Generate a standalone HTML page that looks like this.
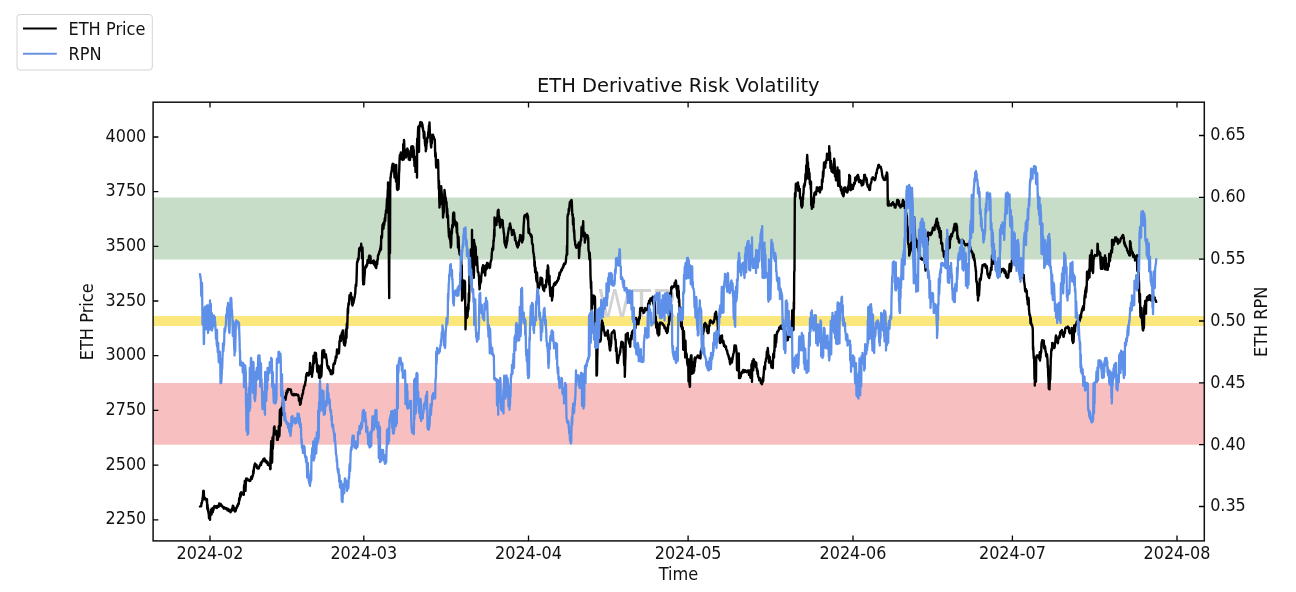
<!DOCTYPE html>
<html lang="en"><head><meta charset="utf-8"><title>ETH Derivative Risk Volatility</title>
<style>html,body{margin:0;padding:0;background:#fff;}body{width:1296px;height:592px;overflow:hidden;}svg{display:block;will-change:transform;}text{font-family:"DejaVu Sans","Liberation Sans",sans-serif;fill:#111;}</style></head><body>
<svg width="1296" height="592" viewBox="0 0 1296 592">
<rect x="0" y="0" width="1296" height="592" fill="#ffffff"/>
<rect x="153.1" y="197.5" width="1051.2" height="62" fill="#c8ddc7"/>
<rect x="153.1" y="316" width="1051.2" height="10" fill="#fce77c"/>
<rect x="153.1" y="383" width="1051.2" height="61.7" fill="#f8bfc0"/>
<text transform="translate(598.5,317.4) scale(0.86,1)" font-size="40" style="font-family:'Liberation Sans',sans-serif;fill:#d2d2d2">WTR</text>
<path d="M200,506.5 200.2,506.4 200.5,506.3 200.8,506.2 201,506.2 201.2,506.2 201.5,502.9 201.8,503.0 202,502.2 202.2,500.9 202.5,499.2 202.8,496.9 203,495.8 203.2,491.7 203.2,491.0 203.5,490.8 203.8,491.0 204,496.4 204.2,499.4 204.5,498.9 204.8,497.6 205,498.5 205.2,498.5 205.5,498.8 205.8,499.4 206,498.9 206.2,499.6 206.5,499.9 206.8,502.0 207,499.2 207.2,508.4 207.5,504.5 207.8,510.3 208,507.7 208.2,511.7 208.5,512.8 208.8,514.6 209,517.8 209.2,518.5 209.5,518.6 209.8,514.6 210,514.4 210,519.8 210.2,512.4 210.5,515.4 210.8,511.8 211,509.7 211.2,511.8 211.5,514.6 211.8,508.7 212,510.1 212.2,509.1 212.5,508.2 212.8,512.2 213,507.9 213.2,510.6 213.5,509.6 213.8,507.8 214,507.4 214.2,506.8 214.5,506.3 214.5,506.0 214.8,507.2 215,506.4 215.2,506.5 215.5,507.6 215.8,507.1 216,507.5 216.2,506.2 216.5,507.7 216.8,507.9 217,507.3 217,508.0 217.2,506.0 217.5,506.5 217.8,506.9 218,505.9 218.2,506.5 218.5,505.9 218.8,506.7 219,504.4 219.2,503.5 219.5,505.2 219.8,505.4 220,504.5 220,504.0 220.2,504.8 220.5,503.9 220.8,504.2 221,505.9 221.2,504.8 221.5,505.4 221.8,505.8 222,505.6 222.2,506.3 222.5,507.1 222.8,506.6 223,506.7 223.2,507.5 223.5,507.6 223.8,508.5 224,507.6 224.2,507.6 224.5,507.5 224.8,507.6 225,508.4 225.2,508.1 225.5,508.6 225.8,508.9 226,508.2 226.2,508.6 226.5,509.1 226.8,509.0 227,508.6 227.2,509.2 227.5,510.4 227.8,509.9 228,509.9 228.2,508.9 228.5,509.3 228.8,511.0 229,510.9 229.2,510.9 229.5,510.2 229.8,510.2 230,511.4 230.2,511.5 230.5,510.4 230.5,512.2 230.8,510.4 231,511.7 231.2,511.1 231.5,510.5 231.8,509.3 232,508.6 232.2,510.2 232.5,508.2 232.8,505.8 233,507.2 233,506.0 233.2,506.1 233.5,506.7 233.8,509.9 234,510.4 234.2,508.2 234.5,509.2 234.8,510.4 235,511.5 235,511.0 235.2,510.6 235.5,511.2 235.8,510.1 236,509.5 236.2,507.8 236.5,508.4 236.8,507.7 237,507.1 237.2,506.0 237.5,505.3 237.8,505.9 238,505.0 238.2,503.8 238.5,504.0 238.8,503.9 239,501.6 239.2,498.2 239.5,500.4 239.8,498.0 240,496.6 240.2,493.4 240.5,496.8 240.8,495.8 241,493.1 241.2,493.4 241.2,492.2 241.5,493.7 241.8,493.1 242,494.2 242.2,493.0 242.5,493.1 242.8,494.1 243,494.4 243.2,494.4 243.5,493.8 243.8,493.3 243.8,494.8 244,486.8 244.2,485.2 244.5,487.9 244.8,481.0 245,482.0 245.2,488.5 245.5,490.9 245.8,483.3 246,479.5 246.2,481.3 246.2,478.5 246.5,479.6 246.8,479.2 247,478.7 247.2,478.8 247.5,478.8 247.8,479.9 248,480.2 248.2,480.3 248.5,480.2 248.8,480.4 249,480.2 249.2,480.7 249.5,480.7 249.5,481.0 249.8,480.8 250,480.8 250.2,480.8 250.5,479.8 250.8,479.3 251,477.6 251.2,477.3 251.5,476.4 251.8,479.0 252,478.3 252.2,477.3 252.5,476.5 252.8,475.5 253,475.1 253.2,470.8 253.5,473.5 253.8,470.5 254,467.3 254.2,467.0 254.5,464.9 254.8,466.3 255,463.9 255,463.5 255.2,464.7 255.5,464.0 255.8,465.0 256,465.1 256.2,465.6 256.5,464.8 256.8,466.9 257,468.0 257.2,467.3 257.5,467.0 257.8,466.7 258,467.6 258,468.5 258.2,467.8 258.5,467.9 258.8,468.4 259,467.9 259.2,466.5 259.5,466.5 259.8,465.5 260,465.1 260.2,464.6 260.5,464.7 260.8,462.7 261,465.1 261.2,463.3 261.5,462.5 261.8,462.7 262,461.1 262.2,461.9 262.5,461.5 262.8,461.2 263,460.3 263.2,459.5 263.5,459.0 263.8,458.7 264,459.5 264.2,459.8 264.5,460.1 264.5,458.5 264.8,461.3 265,461.5 265.2,461.5 265.5,460.2 265.8,460.7 266,461.4 266.2,460.9 266.5,462.9 266.8,461.7 267,461.6 267.2,463.0 267.5,462.0 267.8,464.8 268,464.1 268.2,464.0 268.5,464.1 268.8,464.9 269,464.0 269.2,464.0 269.5,466.1 269.8,465.4 270,465.2 270.2,469.2 270.5,456.9 270.5,469.0 270.8,451.1 271,448.7 271.2,441.1 271.5,449.7 271.8,447.7 272,462.8 272.2,459.1 272.5,437.4 272.8,448.7 273,445.6 273.2,441.2 273.5,435.4 273.8,433.0 274,427.5 274.2,429.2 274.5,431.4 274.5,426.5 274.8,433.1 275,433.1 275.2,431.9 275.5,432.1 275.8,434.5 276,432.2 276.2,430.9 276.5,432.9 276.8,434.1 277,435.2 277,439.8 277.2,437.7 277.5,438.0 277.8,439.8 278,438.5 278.2,437.3 278.5,435.3 278.8,426.1 279,433.9 279.2,436.4 279.5,434.1 279.8,412.1 280,409.6 280.2,426.2 280.5,418.4 280.8,425.5 281,410.0 281.2,408.8 281.5,415.7 281.8,407.1 282,408.8 282.2,406.9 282.5,404.0 282.8,403.1 283,400.8 283.2,399.6 283.5,400.3 283.8,399.1 284,400.5 284.2,399.1 284.5,399.5 284.8,399.0 285,396.6 285.2,397.1 285.5,399.9 285.8,398.1 286,396.3 286.2,392.9 286.5,394.8 286.8,390.8 287,391.7 287.2,392.3 287.5,392.3 287.8,389.3 288,389.0 288.2,389.0 288.5,389.2 288.8,389.7 289,389.9 289.2,389.8 289.5,389.8 289.8,389.3 290,389.6 290.2,389.5 290.5,389.8 290.8,389.5 291,390.4 291.2,391.9 291.5,393.1 291.8,393.9 292,394.5 292.2,394.7 292.5,395.0 292.5,395.0 292.8,394.6 293,395.0 293.2,394.8 293.5,395.2 293.8,394.9 294,394.0 294.2,394.3 294.5,394.2 294.8,395.0 295,395.1 295.2,394.5 295.5,395.0 295.8,394.8 296,395.0 296.2,394.1 296.2,394.2 296.5,394.6 296.8,394.7 297,395.0 297.2,395.1 297.5,395.3 297.8,394.9 298,395.4 298.2,394.8 298.5,396.1 298.8,397.9 299,400.8 299.2,400.5 299.5,399.8 299.8,402.2 300,401.7 300,404.8 300.2,403.5 300.5,404.1 300.8,402.9 301,400.8 301.2,398.4 301.5,398.6 301.8,398.4 302,395.7 302.2,396.1 302.5,393.6 302.8,393.9 303,393.3 303.2,390.0 303.5,389.7 303.8,388.4 304,386.5 304.2,386.3 304.5,386.3 304.8,384.5 305,385.3 305.2,383.0 305.5,381.2 305.8,380.8 306,376.5 306.2,376.1 306.5,374.0 306.8,373.7 307,375.5 307,373.0 307.2,373.4 307.5,373.8 307.8,374.5 308,373.8 308.2,375.0 308.5,375.2 308.8,375.4 308.8,375.5 309,373.5 309.2,371.9 309.5,374.2 309.8,368.2 310,364.6 310,363.0 310.2,363.5 310.5,365.5 310.8,369.5 311,371.4 311.2,372.0 311.5,374.1 311.8,374.6 312,370.7 312,376.8 312.2,371.6 312.5,373.0 312.8,370.0 313,368.0 313.2,364.2 313.5,355.6 313.8,358.3 314,363.5 314.2,356.5 314.5,356.2 314.8,352.8 315,353.5 315.2,357.6 315.5,353.2 315.5,353.0 315.8,352.9 316,354.0 316.2,361.6 316.5,358.6 316.8,363.6 317,366.8 317.2,371.0 317.5,371.8 317.8,371.0 318,372.3 318.2,365.5 318.5,367.4 318.8,371.6 319,376.7 319.2,377.8 319.5,376.2 319.8,375.1 320,374.2 320,378.0 320.2,377.2 320.5,377.2 320.8,365.5 321,373.4 321.2,376.7 321.5,374.5 321.8,367.3 322,363.3 322.2,353.1 322.5,350.5 322.8,350.9 323,351.1 323.2,350.2 323.5,357.4 323.8,351.6 323.8,350.5 324,351.4 324.2,350.5 324.5,354.8 324.8,354.3 325,357.3 325.2,354.3 325.5,355.0 325.8,354.3 326,355.5 326.2,357.6 326.5,359.1 326.8,360.6 327,363.3 327.2,365.8 327.5,365.8 327.8,367.4 328,368.2 328.2,368.4 328.5,366.5 328.8,367.1 329,369.0 329.2,368.9 329.5,370.6 329.8,369.7 330,371.4 330.2,370.4 330.5,371.9 330.8,374.0 331,373.2 331.2,372.8 331.5,372.0 331.8,374.2 331.8,374.2 332,371.1 332.2,372.6 332.5,369.9 332.8,370.8 333,373.3 333.2,367.9 333.5,364.2 333.8,364.4 334,363.2 334.2,363.0 334.5,364.1 334.8,363.7 335,360.6 335.2,361.8 335.5,360.1 335.8,356.4 336,358.3 336.2,357.0 336.5,357.7 336.8,352.6 337,349.5 337.2,351.3 337.5,353.3 337.8,350.6 338,351.3 338.2,352.6 338.5,352.4 338.8,353.4 339,352.4 339.2,349.0 339.5,341.2 339.8,341.9 340,339.6 340.2,337.0 340.5,335.7 340.8,337.7 341,340.9 341.2,338.6 341.5,336.2 341.8,332.9 342,333.1 342.2,332.8 342.5,331.3 342.8,330.4 343,332.3 343,330.5 343.2,332.8 343.5,338.6 343.8,343.2 344,339.6 344.2,345.0 344.5,338.3 344.8,344.0 345,338.1 345,345.5 345.2,337.9 345.5,343.0 345.8,337.5 346,329.2 346.2,329.1 346.5,337.9 346.8,323.8 347,323.8 347.2,328.5 347.5,319.4 347.8,308.5 348,313.4 348.2,306.9 348.5,303.3 348.8,304.8 349,304.1 349.2,300.5 349.5,295.3 349.8,297.1 350,299.5 350.2,295.7 350.5,296.2 350.8,294.0 350.8,293.0 351,294.2 351.2,297.8 351.5,299.8 351.8,296.9 352,301.5 352.2,304.8 352.5,304.4 352.5,305.5 352.8,304.3 353,303.0 353.2,300.0 353.5,302.8 353.8,300.4 354,300.3 354.2,298.2 354.5,297.7 354.8,295.9 355,294.2 355.2,294.2 355.5,288.1 355.8,284.6 356,285.8 356.2,285.9 356.5,280.8 356.8,270.8 357,263.1 357.2,261.8 357.5,262.5 357.8,259.4 358,258.7 358.2,260.0 358.5,259.7 358.8,255.2 359,252.1 359.2,248.5 359.5,248.0 359.8,248.4 360,247.5 360,247.5 360.2,250.4 360.5,248.0 360.8,248.5 361,246.2 361.2,249.9 361.2,249.2 361.2,243.8 361.5,248.9 361.8,251.7 362,250.3 362,258.0 362.2,248.2 362.5,253.9 362.5,247.5 362.8,256.8 363,281.3 363.2,278.2 363.2,284.2 363.5,279.5 363.8,278.6 364,284.3 364.2,280.0 364.5,275.8 364.8,272.9 365,267.2 365.2,267.6 365.5,267.5 365.8,267.7 366,265.4 366.2,266.6 366.5,266.6 366.8,265.5 367,264.0 367.2,264.8 367.5,260.1 367.8,261.6 368,259.9 368.2,262.9 368.5,259.5 368.8,259.5 369,256.1 369.2,257.1 369.5,256.3 369.5,255.5 369.8,257.7 370,257.6 370.2,263.0 370.5,256.2 370.8,262.6 371,262.0 371.2,262.7 371.2,263.0 371.5,262.7 371.8,262.2 372,262.7 372.2,262.8 372.5,262.9 372.8,261.1 373,260.8 373.2,261.0 373.5,260.7 373.8,261.7 373.8,260.5 374,264.6 374.2,261.3 374.5,261.8 374.8,263.5 375,263.7 375.2,266.0 375.5,266.9 375.8,267.4 376,267.1 376.2,266.5 376.2,268.0 376.5,265.3 376.8,261.2 377,261.8 377.2,264.3 377.5,259.6 377.8,259.7 378,255.3 378.2,255.2 378.5,254.3 378.8,254.4 379,253.0 379.2,252.8 379.5,251.3 379.8,251.4 380,250.3 380.2,248.7 380.5,248.1 380.8,244.9 381,249.7 381.2,236.2 381.5,238.5 381.8,238.0 382,237.2 382.2,231.4 382.5,224.9 382.8,224.5 383,226.1 383.2,223.4 383.5,228.8 383.8,222.4 384,224.2 384.2,224.8 384.5,221.7 384.8,218.2 385,221.2 385.2,220.4 385.5,214.0 385.8,213.5 386,210.2 386.2,212.9 386.5,209.5 386.8,203.0 387,199.2 387.2,198.4 387.5,198.0 387.8,189.7 388,192.1 388,182.5 388.2,187.4 388.5,182.9 388.8,246.9 389,279.6 389.2,295.7 389.2,298.0 389.5,191.3 389.8,196.2 390,252.9 390.2,189.3 390.5,177.3 390.8,177.1 391,173.6 391.2,173.6 391.5,171.0 391.8,171.5 392,166.7 392.2,167.5 392.5,164.1 392.8,164.8 393,164.2 393,163.8 393.2,164.0 393.5,164.0 393.8,166.9 394,167.4 394.2,171.0 394.5,176.9 394.5,177.5 394.8,168.7 395,171.7 395.2,172.5 395.5,165.3 395.8,177.0 396,181.7 396.2,180.6 396.2,165.0 396.5,176.7 396.8,176.3 397,189.0 397.2,181.0 397.5,180.4 397.5,190.0 397.8,185.4 398,182.2 398.2,181.0 398.5,189.2 398.8,183.2 399,173.1 399.2,171.6 399.5,161.6 399.8,155.7 400,154.8 400.2,156.9 400.5,156.2 400.8,155.9 400.8,152.5 401,158.8 401.2,157.0 401.5,158.8 401.8,158.4 402,156.4 402.2,157.3 402.5,156.9 402.5,160.0 402.8,159.5 403,159.0 403.2,144.2 403.5,154.1 403.8,159.6 404,145.1 404,140.0 404.2,142.0 404.5,153.3 404.8,153.8 405,157.3 405.2,154.3 405.5,153.7 405.5,157.5 405.8,152.2 406,157.4 406.2,157.0 406.5,153.5 406.8,149.7 407,149.5 407.2,148.7 407.5,150.6 407.5,148.8 407.8,152.3 408,150.2 408.2,151.5 408.5,150.8 408.8,159.6 409,156.1 409.2,156.5 409.5,159.8 409.8,158.1 410,159.4 410,160.0 410.2,157.5 410.5,157.0 410.8,155.5 411,152.4 411.2,147.6 411.5,146.4 411.8,148.1 412,151.3 412.2,151.8 412.5,153.3 412.5,146.2 412.8,157.1 413,146.8 413.2,146.9 413.5,148.9 413.8,150.6 414,160.5 414.2,158.1 414.5,166.1 414.8,162.4 415,164.5 415.2,156.9 415.5,171.9 415.8,165.9 416,164.4 416.2,159.2 416.5,170.4 416.8,169.8 417,143.2 417,177.5 417.2,138.8 417.5,139.5 417.8,139.2 418,131.8 418.2,127.2 418.5,126.6 418.8,127.5 419,151.7 419.2,126.6 419.5,127.0 419.8,125.6 420,124.3 420.2,122.3 420.5,122.0 420.8,123.5 421,123.9 421.2,123.2 421.2,122.5 421.5,122.8 421.8,122.6 422,126.6 422.2,123.8 422.5,125.1 422.8,128.9 423,128.0 423.2,131.1 423.5,131.0 423.8,138.0 424,132.0 424.2,131.7 424.5,134.7 424.8,140.6 425,143.6 425.2,145.7 425.5,146.1 425.8,147.7 425.8,151.2 426,148.2 426.2,149.1 426.5,144.4 426.8,141.6 427,142.7 427.2,137.8 427.5,138.7 427.8,137.8 428,136.6 428.2,132.5 428.5,131.9 428.8,128.3 429,125.6 429.2,124.7 429.5,129.0 429.5,122.5 429.8,130.5 430,136.7 430.2,133.9 430.5,141.3 430.8,143.2 431,146.8 431.2,144.0 431.2,147.5 431.5,142.3 431.8,143.4 432,141.0 432.2,136.8 432.5,135.7 432.5,135.0 432.8,136.6 433,134.8 433.2,135.6 433.5,137.3 433.8,136.9 434,138.3 434.2,138.5 434.5,139.5 434.8,139.5 435,145.9 435.2,156.6 435.5,152.4 435.8,155.6 436,165.3 436.2,166.2 436.2,167.5 436.5,165.1 436.8,165.1 437,163.8 437.2,163.3 437.5,162.1 437.8,162.8 438,161.7 438,160.0 438.2,164.2 438.5,179.5 438.8,189.2 439,180.9 439.2,198.5 439.5,204.6 439.5,207.5 439.8,204.0 440,200.8 440.2,199.3 440.5,195.8 440.8,195.5 441,189.7 441.2,187.1 441.2,186.2 441.5,191.1 441.8,194.2 442,204.1 442.2,203.6 442.5,203.8 442.8,209.3 443,212.0 443,217.5 443.2,215.7 443.5,212.9 443.8,208.2 444,212.3 444.2,197.7 444.5,190.5 444.5,190.0 444.8,192.8 445,194.6 445.2,197.0 445.5,198.9 445.8,197.9 446,201.6 446.2,202.3 446.5,201.9 446.8,208.2 447,217.1 447.2,208.4 447.5,214.3 447.8,215.2 448,216.5 448.2,223.2 448.5,228.3 448.8,233.8 449,236.9 449.2,228.9 449.5,237.8 449.8,238.9 450,239.7 450.2,239.8 450.5,242.7 450.8,245.9 450.8,247.5 451,245.1 451.2,245.5 451.5,231.6 451.8,234.0 452,230.6 452.2,225.1 452.5,224.8 452.8,227.6 453,217.2 453.2,213.3 453.5,214.9 453.8,224.8 453.8,212.5 454,223.0 454.2,213.0 454.5,223.2 454.8,220.1 455,223.6 455.2,222.2 455.5,221.5 455.8,222.8 456,226.5 456.2,222.1 456.5,224.8 456.8,232.6 457,223.1 457.2,231.9 457.5,234.3 457.8,238.8 458,247.5 458.2,247.0 458.5,236.8 458.8,244.2 459,249.7 459.2,250.8 459.5,254.2 459.8,253.5 460,255.1 460.2,254.7 460.5,255.3 460.8,252.3 461,253.8 461.2,256.5 461.5,271.2 461.8,265.5 462,288.1 462,300.5 462.2,296.6 462.5,299.1 462.8,296.9 463,282.7 463.2,289.9 463.5,291.7 463.8,286.0 463.8,280.5 464,281.3 464.2,288.4 464.5,280.7 464.8,294.8 465,282.0 465.2,302.5 465.5,320.0 465.5,329.2 465.8,316.0 466,313.9 466.2,315.2 466.5,312.3 466.8,311.8 467,318.0 467.2,307.5 467.5,317.0 467.8,310.9 468,311.6 468.2,304.1 468.5,309.4 468.8,293.1 469,301.8 469.2,297.7 469.5,270.3 469.8,266.1 470,264.4 470.2,263.3 470.5,266.4 470.8,249.5 471,262.0 471.2,252.4 471.5,263.1 471.8,263.9 472,263.8 472,230.0 472.2,275.3 472.5,271.9 472.8,268.6 473,276.5 473,278.0 473.2,275.4 473.5,260.5 473.8,277.8 474,271.0 474,240.0 474.2,257.2 474.5,243.1 474.8,245.7 475,248.1 475.2,247.1 475.5,246.3 475.8,249.9 476,260.6 476.2,259.9 476.5,265.2 476.8,262.4 477,256.8 477.2,261.0 477.5,266.3 477.8,271.9 478,272.4 478.2,271.8 478.5,273.0 478.8,276.0 479,276.4 479.2,284.6 479.5,286.5 479.5,289.2 479.8,287.9 480,284.5 480.2,283.8 480.5,282.6 480.8,279.9 481,282.0 481.2,277.0 481.5,274.5 481.8,272.9 482,272.8 482.2,268.0 482.5,269.1 482.8,266.7 483,265.3 483.2,269.1 483.5,269.3 483.5,265.5 483.8,266.5 484,266.2 484.2,272.3 484.5,272.7 484.8,273.6 485,274.2 485.2,272.8 485.2,275.5 485.5,268.8 485.8,270.3 486,265.2 486.2,268.5 486.5,266.7 486.8,268.8 487,263.5 487,263.0 487.2,264.5 487.5,264.0 487.8,263.1 488,265.6 488.2,265.0 488.5,264.4 488.8,266.0 489,266.3 489.2,267.2 489.5,266.5 489.5,268.0 489.8,267.0 490,267.5 490.2,265.7 490.5,262.6 490.8,261.1 491,260.6 491.2,260.5 491.5,258.4 491.8,253.4 492,251.7 492.2,248.6 492.5,249.6 492.8,250.1 493,246.4 493.2,249.5 493.5,240.2 493.8,241.2 494,236.4 494.2,229.6 494.5,236.3 494.5,217.5 494.8,220.5 495,218.6 495.2,218.9 495.5,221.1 495.8,221.5 496,222.9 496.2,224.1 496.5,224.6 496.5,225.0 496.8,219.7 497,217.7 497.2,219.2 497.5,217.1 497.8,210.8 498,211.2 498.2,212.7 498.2,210.0 498.5,209.8 498.8,216.0 499,221.7 499.2,216.4 499.5,221.1 499.8,225.6 500,218.9 500.2,221.5 500.2,227.5 500.5,222.9 500.8,222.6 501,222.8 501.2,220.9 501.5,220.5 501.8,224.2 502,221.2 502,220.0 502.2,222.4 502.5,220.2 502.8,221.9 503,227.8 503.2,227.4 503.5,229.6 503.8,233.1 504,233.0 504.2,236.7 504.5,243.0 504.8,240.9 505,244.0 505.2,245.0 505.5,246.2 505.8,246.3 506,245.0 506,247.5 506.2,244.8 506.5,244.9 506.8,242.9 507,237.4 507.2,241.7 507.5,238.0 507.8,234.9 508,234.3 508.2,232.5 508.5,231.1 508.8,228.0 509,228.1 509.2,227.6 509.5,227.9 509.8,224.6 510,223.5 510.2,224.9 510.2,223.8 510.5,228.0 510.8,226.9 511,229.0 511.2,229.4 511.5,230.1 511.8,232.9 512,235.1 512,235.0 512.2,233.3 512.5,231.3 512.8,231.5 513,231.1 513.2,230.9 513.5,232.9 513.5,230.0 513.8,232.9 514,234.2 514.2,232.8 514.5,234.4 514.8,236.5 515,240.1 515.2,237.5 515.5,240.0 515.8,241.0 516,241.7 516.2,242.5 516.5,244.5 516.8,243.7 517,245.8 517.2,246.5 517.5,246.9 517.8,245.6 517.8,247.5 518,243.9 518.2,242.6 518.5,242.7 518.8,245.3 519,241.0 519.2,240.9 519.5,239.6 519.8,239.3 520,236.1 520.2,236.0 520.2,235.0 520.5,235.2 520.8,235.2 521,237.3 521.2,237.8 521.5,241.1 521.8,241.7 522,242.1 522.2,242.3 522.2,242.5 522.5,239.2 522.8,240.3 523,238.9 523.2,239.1 523.5,228.5 523.8,223.3 524,221.3 524.2,217.1 524.5,215.7 524.8,216.6 525,216.8 525.2,214.9 525.5,216.5 525.8,215.3 526,214.8 526.2,214.9 526.5,215.2 526.8,214.2 527,215.9 527.2,213.7 527.2,213.8 527.5,219.5 527.8,215.8 528,216.8 528.2,222.3 528.5,232.8 528.8,232.5 529,228.6 529.2,233.0 529.5,233.5 529.8,233.6 530,233.8 530.2,234.9 530.5,234.0 530.8,234.5 531,236.9 531.2,234.6 531.5,236.7 531.8,236.5 532,243.5 532.2,243.0 532.5,244.4 532.8,244.4 533,247.6 533.2,251.7 533.5,253.2 533.8,254.1 534,257.5 534.2,256.6 534.5,266.5 534.8,261.6 535,269.8 535.2,272.5 535.5,267.4 535.8,272.3 536,273.0 536.2,278.6 536.5,280.7 536.8,281.7 537,272.4 537.2,275.0 537.5,282.7 537.8,286.1 537.8,289.2 538,289.5 538.2,287.2 538.5,287.3 538.8,287.1 539,288.0 539.2,285.4 539.5,283.5 539.8,283.5 540,285.0 540.2,283.0 540.5,277.8 540.8,280.9 541,279.3 541.2,282.5 541.5,279.1 541.5,278.0 541.8,278.1 542,279.7 542.2,278.7 542.5,286.6 542.8,285.2 543,287.6 543.2,289.7 543.5,287.4 543.8,288.7 544,290.4 544,290.5 544.2,290.9 544.5,285.5 544.8,287.7 545,286.2 545.2,286.8 545.5,285.0 545.8,287.2 546,286.3 546.2,281.0 546.5,279.1 546.8,281.6 547,270.5 547.2,273.0 547.5,271.0 547.8,267.8 547.8,265.5 548,271.1 548.2,266.9 548.5,274.4 548.8,281.6 549,284.8 549.2,283.6 549.5,275.6 549.8,287.4 550,290.4 550.2,293.3 550.5,296.1 550.8,292.5 551,287.8 551.2,288.4 551.5,293.0 551.8,291.6 552,295.0 552,300.5 552.2,297.5 552.5,297.4 552.8,294.9 553,287.1 553.2,286.2 553.5,286.4 553.8,285.7 554,283.8 554.2,284.2 554.5,284.6 554.8,285.0 555,283.1 555.2,282.4 555.5,284.5 555.8,283.1 556,282.4 556.2,282.8 556.5,282.6 556.8,282.5 557,280.9 557.2,281.3 557.5,281.2 557.8,279.6 558,280.3 558.2,278.6 558.5,277.1 558.8,278.9 559,277.2 559.2,274.6 559.5,272.7 559.8,275.1 560,273.2 560.2,272.1 560.5,272.6 560.8,271.9 561,271.0 561.2,270.0 561.5,269.4 561.8,270.4 562,270.0 562.2,268.5 562.5,268.4 562.8,267.0 563,266.7 563.2,267.6 563.5,265.0 563.8,265.8 564,263.9 564.2,263.4 564.5,264.4 564.8,264.1 565,263.5 565.2,264.0 565.5,262.8 565.8,262.2 566,259.4 566.2,256.7 566.5,255.0 566.8,255.0 567,245.6 567.2,254.5 567.5,217.7 567.8,214.7 568,214.2 568.2,214.8 568.5,213.7 568.8,208.6 569,211.4 569.2,210.0 569.5,206.0 569.8,202.6 570,201.8 570.2,201.7 570.5,201.6 570.8,201.5 571,200.6 571.2,204.0 571.5,205.4 571.5,200.0 571.8,201.7 572,207.9 572.2,212.4 572.5,216.0 572.8,214.3 573,224.6 573.2,217.3 573.5,218.4 573.8,229.7 574,232.3 574.2,230.2 574.5,238.1 574.8,241.0 575,240.6 575.2,244.9 575.5,244.8 575.8,245.9 576,247.3 576.2,247.6 576.5,246.2 576.5,247.5 576.8,247.7 577,246.3 577.2,245.2 577.5,245.7 577.8,244.8 578,244.9 578.2,244.6 578.5,244.0 578.8,242.9 579,257.4 579,242.5 579,258.0 579.2,255.5 579.5,250.2 579.8,243.8 580,246.4 580.2,245.7 580.5,242.4 580.8,239.8 581,239.0 581.2,240.3 581.5,227.3 581.8,232.9 582,231.6 582.2,228.2 582.5,226.2 582.8,226.8 583,224.0 583.2,232.1 583.2,221.2 583.5,235.9 583.8,236.7 584,236.6 584.2,233.6 584.5,232.6 584.8,233.4 584.8,242.5 585,240.7 585.2,240.3 585.5,239.2 585.8,237.2 586,236.9 586.2,235.5 586.5,234.9 586.5,235.0 586.8,236.4 587,235.8 587.2,235.7 587.5,235.5 587.8,236.3 588,237.1 588.2,237.7 588.5,250.0 588.8,251.6 589,251.4 589.2,253.9 589.5,259.6 589.8,252.9 590,259.5 590.2,258.9 590.5,276.3 590.8,282.1 591,288.4 591.2,281.6 591.5,296.9 591.5,310.5 591.8,309.7 592,308.5 592.2,304.1 592.5,304.6 592.8,300.1 593,298.3 593.2,303.8 593.5,300.4 593.5,295.5 593.8,297.0 594,295.9 594.2,296.6 594.5,296.5 594.8,296.6 595,298.3 595.2,313.6 595.5,326.7 595.8,328.9 596,329.8 596.2,315.7 596.5,374.0 596.5,375.5 596.8,375.4 597,373.4 597.2,360.6 597.5,348.4 597.8,345.7 598,342.5 598.2,342.1 598.5,342.3 598.8,341.6 599,341.6 599.2,341.0 599.5,340.7 599.8,340.6 600,337.3 600.2,341.6 600.5,340.8 600.8,339.3 601,334.4 601.2,332.6 601.5,324.3 601.8,321.6 602,322.2 602,320.5 602.2,324.5 602.5,323.2 602.8,322.8 603,326.4 603.2,330.1 603.5,326.3 603.8,330.3 604,330.3 604.2,330.7 604.5,332.8 604.8,333.9 605,335.6 605.2,334.9 605.5,334.6 605.8,334.9 606,334.8 606,335.5 606.2,335.4 606.5,334.6 606.8,334.9 607,332.3 607.2,333.0 607.5,333.0 607.8,332.3 607.8,330.5 608,337.8 608.2,339.4 608.5,334.5 608.8,338.3 609,341.5 609.2,344.4 609.5,346.3 609.8,350.0 610,347.9 610.2,346.4 610.2,350.5 610.5,343.5 610.8,346.6 611,344.4 611.2,343.7 611.5,334.0 611.8,332.9 612,332.8 612.2,332.7 612.5,332.0 612.8,331.9 613,332.6 613.2,331.8 613.5,332.0 613.8,330.4 614,331.4 614,330.5 614.2,330.7 614.5,332.0 614.8,334.4 615,338.6 615.2,339.7 615.5,339.2 615.8,343.0 616,350.9 616.2,349.7 616.5,348.0 616.8,354.7 617,358.7 617.2,362.8 617.5,361.7 617.8,362.1 617.8,363.0 618,361.4 618.2,360.6 618.5,358.6 618.8,356.3 619,356.1 619.2,355.1 619.5,355.0 619.8,353.9 620,350.9 620.2,352.6 620.5,348.6 620.8,346.7 621,347.3 621.2,342.8 621.5,341.7 621.5,341.8 621.8,342.4 622,342.4 622.2,342.5 622.5,342.6 622.8,343.1 623,342.6 623.2,346.7 623.5,349.5 623.8,353.8 624,361.7 624.2,365.2 624.5,358.2 624.8,369.9 624.8,376.8 625,371.4 625.2,362.5 625.5,356.9 625.8,334.5 626,334.8 626.2,334.3 626.5,334.2 626.8,333.8 627,334.3 627.2,334.2 627.5,334.8 627.8,333.8 627.8,333.0 628,339.6 628.2,338.2 628.5,338.6 628.8,341.1 629,342.6 629.2,342.8 629.5,343.8 629.8,343.4 630,344.7 630.2,346.7 630.2,346.8 630.5,339.8 630.8,338.3 631,339.3 631.2,335.4 631.5,339.3 631.8,335.4 632,332.2 632.2,331.7 632.5,331.8 632.8,331.0 633,330.7 633.2,331.4 633.5,329.9 633.8,332.9 634,330.7 634.2,329.1 634.5,325.1 634.8,325.4 635,322.1 635.2,325.7 635.5,328.1 635.8,324.1 636,324.2 636,318.0 636.2,319.1 636.5,321.8 636.8,319.2 637,321.2 637.2,321.9 637.5,321.9 637.8,323.8 638,321.3 638.2,323.3 638.5,322.3 638.5,324.2 638.8,319.3 639,320.7 639.2,317.1 639.5,317.9 639.8,318.4 640,312.4 640.2,308.2 640.5,309.8 640.8,309.6 641,309.2 641,308.0 641.2,308.8 641.5,310.4 641.8,310.4 642,310.4 642.2,307.9 642.5,311.1 642.8,311.0 643,311.7 643.2,309.9 643.5,311.5 643.5,313.0 643.8,311.9 644,311.9 644.2,312.4 644.5,311.0 644.8,309.4 645,309.6 645.2,310.6 645.2,308.0 645.5,309.7 645.8,308.5 646,309.3 646.2,310.0 646.5,310.1 646.8,309.3 647,309.4 647.2,310.1 647.5,310.2 647.8,310.0 647.8,310.5 648,306.4 648.2,303.7 648.5,306.3 648.8,304.8 649,301.0 649.2,304.3 649.5,304.8 649.8,300.0 650,300.3 650.2,300.8 650.5,298.5 650.8,298.5 651,299.0 651.2,298.5 651.5,299.1 651.8,300.5 652,299.4 652.2,298.0 652.5,298.3 652.8,298.7 652.8,296.8 653,302.8 653.2,303.9 653.5,301.9 653.8,300.4 654,306.5 654.2,298.8 654.5,301.2 654.8,306.4 655,312.4 655.2,319.1 655.5,322.8 655.8,316.9 656,323.8 656.2,327.8 656.5,322.4 656.8,322.2 657,327.5 657.2,328.7 657.5,333.6 657.8,323.9 658,330.4 658.2,331.8 658.5,331.6 658.5,335.5 658.8,330.0 659,334.7 659.2,334.6 659.5,328.0 659.8,322.9 660,322.7 660.2,322.5 660.5,322.9 660.8,323.4 661,322.7 661.2,322.7 661.5,322.7 661.8,323.3 662,323.2 662.2,323.2 662.5,323.4 662.8,324.6 663,324.5 663.2,324.4 663.5,325.4 663.8,325.2 664,325.7 664.2,325.4 664.5,328.2 664.8,327.2 665,328.1 665.2,327.8 665.5,327.4 665.8,329.9 666,331.0 666.2,331.3 666.5,330.5 666.8,331.9 667,331.5 667,333.0 667.2,331.4 667.5,332.3 667.8,330.3 668,328.5 668.2,324.7 668.5,324.9 668.8,324.5 669,322.7 669.2,312.5 669.5,321.0 669.8,316.7 670,304.4 670.2,293.1 670.5,293.1 670.8,295.2 671,298.0 671.2,287.4 671.5,289.7 671.8,286.5 672,287.2 672.2,286.9 672.5,287.9 672.8,287.4 673,286.8 673.2,286.7 673.5,286.2 673.8,286.8 674,286.8 674.2,285.5 674.5,284.6 674.8,282.5 675,283.8 675.2,282.8 675.5,284.1 675.8,282.5 675.8,280.5 676,281.2 676.2,284.1 676.5,288.9 676.8,287.5 677,291.2 677.2,295.9 677.5,291.7 677.8,297.7 678,292.0 678.2,286.0 678.5,295.8 678.8,291.0 679,302.7 679.2,299.3 679.5,307.7 679.8,311.0 680,318.0 680.2,313.3 680.5,307.8 680.8,318.6 681,326.3 681.2,313.2 681.5,312.2 681.8,324.6 682,328.7 682.2,329.1 682.5,327.1 682.8,327.9 683,336.3 683.2,349.5 683.5,349.7 683.8,330.9 684,332.2 684.2,339.4 684.5,340.8 684.8,343.5 685,348.5 685.2,357.4 685.5,340.7 685.8,352.5 686,353.9 686.2,353.8 686.5,353.4 686.8,355.8 687,359.6 687.2,362.8 687.5,364.6 687.8,365.8 688,359.2 688.2,361.5 688.5,381.6 688.8,379.1 689,380.2 689.2,367.7 689.5,384.6 689.8,385.4 689.8,386.8 690,385.7 690.2,365.5 690.5,358.0 690.8,360.0 691,355.5 691.2,373.5 691.5,362.4 691.5,355.5 691.8,373.8 692,361.4 692.2,367.9 692.5,365.7 692.8,363.3 693,372.7 693.2,367.7 693.5,369.2 693.5,373.0 693.8,370.0 694,365.7 694.2,371.0 694.5,358.8 694.8,366.6 695,357.5 695.2,362.4 695.5,357.6 695.8,358.8 696,358.3 696.2,358.3 696.5,357.7 696.8,357.5 697,357.1 697.2,356.8 697.5,355.8 697.8,356.1 697.8,355.5 698,356.7 698.2,356.3 698.5,355.7 698.8,355.9 699,357.0 699.2,358.0 699.5,356.6 699.8,355.6 700,355.6 700.2,358.2 700.2,358.0 700.5,358.3 700.8,351.3 701,351.3 701.2,352.0 701.5,349.3 701.8,350.8 702,347.2 702.2,348.6 702.5,342.3 702.8,341.4 703,336.1 703.2,330.9 703.5,332.1 703.8,328.7 704,328.1 704.2,324.1 704.5,324.3 704.8,324.0 705,325.4 705.2,323.3 705.2,323.0 705.5,326.0 705.8,324.0 706,326.1 706.2,326.3 706.5,324.8 706.8,328.5 707,331.3 707.2,331.2 707.5,331.8 707.8,332.1 707.8,333.0 708,332.7 708.2,332.1 708.5,333.0 708.8,330.7 709,325.8 709.2,326.2 709.5,325.8 709.8,321.8 710,321.1 710.2,321.6 710.2,320.5 710.5,320.3 710.8,320.8 711,321.2 711.2,321.1 711.5,322.2 711.8,322.5 712,321.9 712.2,321.7 712.5,321.9 712.8,323.4 712.8,323.0 713,322.1 713.2,322.3 713.5,322.2 713.8,322.2 714,321.5 714.2,319.9 714.5,318.5 714.8,316.5 715,313.5 715.2,316.9 715.5,316.2 715.8,315.2 716,314.4 716,311.8 716.2,312.9 716.5,318.8 716.8,316.7 717,319.5 717.2,318.7 717.5,320.4 717.8,326.0 718,334.0 718.2,337.2 718.5,334.5 718.8,334.6 719,334.7 719.2,337.5 719.5,336.9 719.8,342.1 720,342.8 720.2,342.0 720.2,343.0 720.5,341.8 720.8,339.6 721,336.2 721.2,338.8 721.5,340.3 721.8,336.1 722,339.6 722,335.5 722.2,341.7 722.5,342.3 722.8,340.7 723,340.5 723.2,343.4 723.5,341.1 723.8,344.9 724,345.9 724.2,344.2 724.5,345.0 724.8,346.2 725,347.1 725.2,346.8 725.5,346.2 725.8,346.5 726,346.5 726.2,349.5 726.5,349.3 726.8,350.9 727,351.1 727.2,350.9 727.5,353.6 727.8,354.2 728,354.0 728.2,355.1 728.5,356.4 728.8,356.2 729,358.2 729.2,359.2 729.5,358.1 729.8,362.3 730,363.3 730.2,361.6 730.2,364.2 730.5,358.8 730.8,358.7 731,360.9 731.2,362.1 731.5,358.7 731.8,362.5 732,362.0 732.2,358.3 732.5,359.7 732.8,356.1 733,356.4 733.2,354.6 733.5,353.2 733.8,352.6 734,351.6 734.2,349.6 734.5,345.4 734.8,346.1 735,345.7 735.2,346.2 735.2,345.5 735.5,346.4 735.8,345.7 736,346.7 736.2,348.5 736.5,351.2 736.8,354.4 737,369.3 737.2,370.4 737.5,366.9 737.8,354.3 738,354.7 738.2,366.4 738.5,354.3 738.8,353.4 739,375.3 739,378.0 739.2,377.1 739.5,375.6 739.8,377.2 740,375.9 740.2,378.0 740.5,374.8 740.8,376.3 741,373.6 741.2,372.7 741.5,373.0 741.8,373.3 742,371.9 742.2,371.5 742.5,371.2 742.8,371.5 743,371.6 743.2,370.0 743.5,371.8 743.8,372.3 744,371.1 744,370.5 744.2,370.6 744.5,371.4 744.8,370.2 745,370.3 745.2,370.4 745.5,371.7 745.8,371.6 746,371.8 746.2,371.2 746.5,372.1 746.8,372.2 747,371.0 747,371.8 747.2,371.9 747.5,371.7 747.8,372.1 748,370.4 748.2,370.9 748.5,370.6 748.8,371.0 749,375.1 749.2,373.1 749.5,371.1 749.8,375.0 749.8,370.5 750,375.7 750.2,375.7 750.5,377.8 750.8,377.5 751,374.0 751.2,378.0 751.5,364.2 751.8,377.3 752,377.1 752,381.8 752.2,363.6 752.5,361.0 752.8,365.0 753,369.1 753.2,370.3 753.5,367.6 753.5,359.2 753.8,359.4 754,362.1 754.2,362.0 754.5,361.5 754.8,363.4 755,361.9 755.2,364.7 755.5,365.3 755.8,366.7 756,363.4 756.2,362.7 756.5,366.9 756.8,369.1 757,371.0 757.2,369.2 757.5,374.1 757.8,371.0 758,374.4 758.2,376.9 758.5,376.9 758.8,377.9 759,378.6 759.2,380.3 759.5,378.3 759.8,378.2 760,379.2 760.2,378.9 760.5,380.2 760.8,382.1 761,383.3 761.2,383.5 761.5,382.1 761.8,383.5 762,380.9 762,384.2 762.2,382.1 762.5,381.7 762.8,381.9 763,377.4 763.2,381.3 763.5,376.2 763.8,372.8 764,369.6 764.2,366.6 764.5,366.4 764.8,367.2 765,369.3 765.2,362.6 765.5,361.9 765.8,361.3 766,358.6 766.2,359.2 766.5,358.2 766.8,351.7 767,356.2 767.2,353.0 767.5,350.1 767.8,348.7 767.8,348.0 768,350.1 768.2,354.3 768.5,356.0 768.8,355.4 769,362.6 769.2,356.5 769.5,362.2 769.8,357.0 770,361.9 770.2,362.4 770.5,363.2 770.8,361.3 771,363.9 771.2,365.9 771.5,367.6 771.8,367.5 772,366.5 772.2,366.8 772.5,367.2 772.8,365.6 772.8,368.0 773,360.0 773.2,354.2 773.5,353.5 773.8,355.7 774,357.6 774.2,350.8 774.5,351.1 774.8,335.3 775,344.7 775.2,344.1 775.5,346.9 775.8,340.4 776,335.0 776.2,342.6 776.5,337.6 776.8,333.1 777,334.1 777.2,331.8 777.5,332.4 777.8,331.8 778,330.7 778.2,331.1 778.5,330.1 778.8,330.1 779,329.8 779.2,327.5 779.5,328.9 779.8,327.7 780,328.6 780.2,326.6 780.5,326.2 780.8,327.4 781,328.5 781.2,327.1 781.5,326.0 781.5,325.5 781.8,326.0 782,328.4 782.2,328.9 782.5,326.0 782.8,327.9 783,327.7 783.2,327.6 783.5,328.6 783.8,329.6 784,327.8 784.2,328.3 784.5,333.3 784.8,332.2 785,333.8 785.2,333.2 785.5,331.1 785.8,333.1 786,333.4 786.2,338.8 786.5,337.9 786.5,340.5 786.8,339.3 787,340.4 787.2,340.2 787.5,338.8 787.8,340.2 788,337.9 788.2,336.2 788.5,336.0 788.8,336.8 789,336.4 789.2,336.3 789.5,336.4 789.8,335.1 790,335.4 790.2,335.5 790.5,336.5 790.8,334.5 791,334.2 791.2,334.5 791.5,331.6 791.8,331.8 792,331.4 792.2,310.4 792.5,318.7 792.8,330.2 793,330.1 793.2,324.7 793.5,330.0 793.8,301.9 794,309.5 794.2,271.9 794.5,270.8 794.8,201.4 795,193.2 795.2,192.8 795.5,196.6 795.8,184.0 796,184.4 796,183.8 796.2,183.9 796.5,183.4 796.8,184.6 797,183.9 797.2,184.0 797.5,185.0 797.8,185.2 798,185.9 798,185.0 798,182.5 798.2,190.6 798.5,185.5 798.8,186.5 799,190.5 799.2,190.9 799.5,190.9 799.8,189.0 800,197.4 800.2,198.3 800.5,198.8 800.8,197.7 801,199.3 801.2,205.9 801.5,204.8 801.8,207.4 801.8,207.5 802,206.4 802.2,204.6 802.5,205.9 802.8,197.2 803,199.5 803.2,194.0 803.5,193.9 803.8,186.0 804,185.4 804.2,187.3 804.5,183.7 804.8,185.5 805,183.2 805.2,181.7 805.5,174.1 805.8,179.7 806,175.4 806.2,165.4 806.5,167.8 806.8,171.8 807,157.5 807.2,156.8 807.2,155.0 807.5,161.1 807.8,169.1 808,162.5 808.2,178.5 808.5,174.7 808.8,168.7 809,173.2 809.2,174.2 809.5,173.0 809.8,182.2 810,184.1 810.2,180.8 810.5,182.9 810.8,189.5 811,181.8 811.2,205.2 811.5,203.7 811.8,207.0 811.8,208.8 812,208.0 812.2,207.1 812.5,201.2 812.8,198.5 813,199.5 813.2,207.1 813.5,199.9 813.8,203.0 814,197.1 814.2,195.2 814.5,193.0 814.8,194.2 815,192.5 815.2,193.6 815.5,193.0 815.8,191.4 816,194.6 816.2,192.2 816.5,191.5 816.8,187.5 817,188.7 817.2,189.1 817.5,188.7 817.5,187.5 817.8,190.0 818,190.0 818.2,188.5 818.5,190.9 818.8,191.2 819,190.8 819.2,191.0 819.5,190.4 819.8,187.3 820,192.1 820,192.5 820.2,190.4 820.5,188.1 820.8,188.8 821,187.5 821.2,188.5 821.5,189.4 821.8,188.1 822,179.7 822.2,180.2 822.5,182.1 822.8,177.5 823,171.6 823.2,177.2 823.5,173.4 823.8,167.5 824,162.8 824.2,162.5 824.5,163.1 824.8,163.5 825,166.8 825.2,167.6 825.5,161.7 825.8,162.3 826,163.2 826.2,160.5 826.5,159.9 826.8,158.7 827,153.7 827.2,158.1 827.5,158.0 827.8,157.7 828,159.8 828.2,159.3 828.5,159.5 828.8,154.4 829,156.3 829.2,153.1 829.2,146.2 829.5,152.6 829.8,157.5 830,152.8 830.2,161.3 830.5,168.2 830.8,168.1 831,160.9 831.2,165.2 831.5,171.3 831.8,170.0 832,170.9 832.2,171.9 832.5,171.9 832.8,171.4 833,170.7 833,172.5 833.2,172.1 833.5,172.7 833.8,163.7 834,166.7 834.2,161.1 834.2,158.8 834.5,161.5 834.8,166.4 835,176.3 835.2,174.5 835.5,175.3 835.8,174.4 836,180.4 836,180.0 836.2,176.3 836.5,171.0 836.8,179.4 837,171.4 837.2,171.4 837.5,169.7 837.5,167.5 837.8,176.9 838,182.4 838.2,185.9 838.5,177.3 838.8,172.6 839,170.8 839.2,170.6 839.5,180.1 839.8,185.7 840,185.5 840.2,187.2 840.5,186.4 840.8,189.4 841,190.6 841.2,187.0 841.5,188.5 841.8,189.9 842,193.7 842.2,192.5 842.5,190.3 842.8,193.9 843,195.8 843.2,195.9 843.5,191.2 843.5,196.2 843.8,194.8 844,190.3 844.2,187.9 844.5,187.5 844.8,189.5 845,189.5 845.2,189.1 845.5,188.4 845.5,187.5 845.8,190.2 846,191.5 846.2,191.1 846.5,191.6 846.8,191.9 847,191.3 847.2,191.6 847.2,192.5 847.5,191.9 847.8,190.4 848,190.4 848.2,186.1 848.5,188.4 848.8,183.6 849,180.0 849.2,183.0 849.2,175.0 849.5,183.0 849.8,180.3 850,175.9 850.2,186.6 850.5,190.2 850.8,188.9 851,188.7 851,190.0 851.2,185.8 851.5,184.8 851.8,189.1 852,186.7 852.2,187.3 852.5,188.5 852.8,189.0 853,187.8 853.2,186.5 853.5,186.5 853.8,184.8 854,182.9 854.2,184.3 854.5,184.0 854.8,183.7 855,181.0 855.2,178.0 855.5,177.4 855.8,179.4 856,180.6 856.2,180.2 856.5,178.6 856.8,178.3 857,176.6 857.2,175.7 857.5,175.5 857.8,175.1 858,176.7 858,175.0 858.2,178.6 858.5,176.6 858.8,179.6 859,181.8 859.2,182.1 859.5,181.8 859.8,181.6 860,180.0 860.2,179.9 860.5,180.3 860.8,181.1 861,183.0 861.2,182.3 861.5,183.6 861.8,185.5 862,182.7 862.2,182.6 862.5,180.9 862.5,185.0 862.8,183.0 863,184.8 863.2,184.5 863.5,182.8 863.8,179.1 864,178.8 864.2,175.0 864.5,175.4 864.8,176.0 865,175.0 865,175.0 865.2,177.4 865.5,179.2 865.8,179.0 866,180.0 866.2,177.8 866.5,182.4 866.8,179.2 867,182.8 867.2,184.9 867.5,184.3 867.8,186.9 868,185.9 868.2,185.4 868.5,186.0 868.8,187.3 869,188.8 869.2,189.6 869.5,189.5 869.8,188.9 870,188.7 870,190.0 870.2,186.6 870.5,184.2 870.8,183.5 871,183.2 871.2,182.4 871.5,180.9 871.8,178.6 872,179.2 872.2,178.9 872.5,177.9 872.5,177.5 872.8,177.5 873,177.3 873.2,178.4 873.5,178.0 873.8,178.0 874,178.5 874.2,179.6 874.5,179.5 874.8,180.2 875,178.0 875,180.0 875.2,178.7 875.5,178.6 875.8,176.4 876,173.9 876.2,173.0 876.5,173.8 876.8,172.6 877,169.9 877.2,169.9 877.5,168.5 877.8,167.5 878,168.2 878.2,165.4 878.5,166.1 878.5,165.0 878.8,166.0 879,164.9 879.2,166.3 879.5,166.1 879.8,166.4 880,166.7 880.2,167.6 880.5,167.7 880.8,166.9 881,168.3 881.2,168.6 881.5,169.9 881.8,171.8 882,173.2 882.2,175.3 882.5,176.1 882.8,177.5 883,178.0 883.2,178.2 883.5,178.4 883.8,179.6 884,179.2 884.2,178.7 884.5,179.9 884.8,179.2 885,180.0 885,180.0 885.2,179.6 885.5,178.6 885.8,175.7 886,175.8 886.2,175.9 886.5,174.4 886.8,175.3 886.8,172.5 887,173.0 887.2,173.1 887.5,178.0 887.8,204.7 888,205.4 888.2,204.5 888.5,200.8 888.8,204.8 889,205.6 889.2,205.3 889.5,205.4 889.8,205.1 890,204.8 890.2,204.6 890.5,205.3 890.8,205.4 891,204.6 891.2,205.6 891.5,204.8 891.8,203.6 892,204.1 892.2,203.0 892.5,203.9 892.8,203.4 893,202.2 893,202.5 893.2,202.9 893.5,203.8 893.8,204.8 894,204.0 894.2,205.5 894.5,205.1 894.8,207.6 895,204.6 895.2,207.0 895.5,205.6 895.5,207.5 895.8,205.1 896,204.6 896.2,204.2 896.5,204.9 896.8,203.9 897,202.0 897.2,200.0 897.5,201.5 897.8,201.3 898,201.5 898,200.0 898.2,201.4 898.5,200.5 898.8,201.0 899,202.7 899.2,205.9 899.5,205.8 899.8,205.7 900,206.5 900.2,206.3 900.5,204.9 900.5,207.5 900.8,206.4 901,205.3 901.2,204.9 901.5,205.1 901.8,205.3 902,204.2 902.2,206.1 902.5,203.9 902.8,200.5 903,202.4 903,200.0 903.2,201.4 903.5,202.5 903.8,201.4 904,204.3 904.2,206.1 904.5,204.9 904.8,208.5 905,205.8 905.2,208.1 905.5,212.8 905.8,218.7 906,212.8 906.2,212.9 906.5,215.4 906.8,215.9 907,219.2 907.2,231.2 907.5,226.4 907.8,232.4 908,241.4 908.2,244.1 908.5,244.0 908.8,247.3 909,244.1 909.2,252.7 909.2,255.5 909.5,253.0 909.8,253.5 910,250.2 910.2,251.9 910.5,250.6 910.8,246.9 911,249.7 911.2,242.4 911.5,244.7 911.8,242.8 912,244.7 912.2,234.2 912.5,234.8 912.8,235.0 913,234.4 913.2,231.4 913.5,226.4 913.8,219.5 914,222.6 914.2,228.2 914.2,217.5 914.5,226.7 914.8,228.8 915,236.5 915.2,239.7 915.5,238.2 915.8,240.6 916,240.2 916.2,240.5 916.5,240.4 916.8,240.5 917,243.2 917.2,247.1 917.5,247.4 917.8,247.7 918,248.3 918.2,249.4 918.5,250.9 918.8,250.5 919,252.0 919.2,253.5 919.5,254.8 919.8,256.1 920,255.8 920.2,257.9 920.5,258.6 920.8,257.8 921,258.2 921.2,259.0 921.5,258.9 921.8,259.0 922,258.8 922.2,259.6 922.5,259.4 922.8,259.7 923,258.8 923.2,259.6 923.5,260.4 923.8,259.6 924,260.8 924.2,259.8 924.2,260.5 924.5,259.9 924.8,246.5 925,241.1 925.2,263.4 925.5,270.3 925.5,240.0 925.5,270.5 925.8,242.1 926,269.5 926.2,269.4 926.5,262.7 926.8,237.4 927,245.4 927.2,238.9 927.5,245.0 927.8,232.8 928,240.0 928,232.5 928.2,232.4 928.5,233.5 928.8,233.9 929,233.7 929.2,234.5 929.5,233.4 929.8,233.3 930,234.0 930.2,234.4 930.5,234.3 930.5,235.0 930.8,234.9 931,232.6 931.2,232.6 931.5,232.3 931.8,233.3 932,231.4 932.2,230.8 932.5,230.3 932.8,227.8 933,228.7 933.2,230.0 933.5,229.6 933.8,229.3 934,229.8 934.2,228.8 934.5,229.9 934.8,225.8 935,226.9 935.2,224.5 935.5,224.2 935.8,225.4 936,221.7 936.2,221.8 936.5,219.2 936.8,223.5 937,225.0 937,218.8 937.2,225.0 937.5,227.2 937.8,228.8 938,222.4 938.2,225.9 938.5,225.7 938.8,227.4 939,231.2 939.2,232.5 939.5,227.9 939.8,237.5 940,232.2 940.2,234.5 940.5,237.5 940.8,230.9 941,237.3 941.2,243.7 941.5,243.5 941.8,244.1 942,244.2 942.2,243.2 942.5,249.1 942.8,251.0 943,250.3 943.2,251.5 943.5,250.8 943.8,255.9 944,256.7 944.2,254.9 944.5,255.0 944.8,251.8 945,256.2 945.2,257.5 945.5,260.1 945.8,261.1 946,264.4 946.2,260.7 946.5,267.3 946.8,261.1 946.8,268.0 947,264.1 947.2,265.3 947.5,265.0 947.8,249.3 948,250.0 948.2,249.2 948.5,244.9 948.8,243.1 949,237.9 949.2,237.0 949.5,237.6 949.8,247.7 950,240.1 950.2,237.9 950.5,239.7 950.8,236.8 951,235.0 951.2,234.3 951.5,234.6 951.8,235.6 952,236.4 952.2,233.4 952.5,233.2 952.8,232.9 953,232.5 953.2,231.4 953.5,231.1 953.8,227.5 954,228.0 954.2,229.9 954.5,224.3 954.8,224.6 955,227.0 955.2,228.2 955.5,224.5 955.5,223.8 955.8,229.9 956,230.1 956.2,227.6 956.5,224.3 956.8,231.4 957,226.5 957.2,232.4 957.5,238.8 957.8,235.9 958,237.7 958.2,238.9 958.5,238.4 958.8,242.0 959,241.2 959.2,240.9 959.2,242.5 959.5,241.9 959.8,241.5 960,242.7 960.2,242.1 960.5,240.9 960.8,240.6 961,242.0 961.2,241.2 961.5,240.8 961.8,240.0 961.8,240.0 962,239.8 962.2,239.8 962.5,240.1 962.8,241.2 963,240.8 963.2,241.0 963.5,241.3 963.8,241.4 964,242.9 964.2,243.1 964.5,243.5 964.8,244.6 965,244.9 965.2,245.1 965.5,245.4 965.8,244.6 966,244.4 966,245.0 966.2,244.9 966.5,244.3 966.8,245.0 967,244.6 967.2,244.9 967.5,244.3 967.8,244.9 968,244.6 968.2,244.4 968.5,244.3 968.5,243.8 968.8,245.3 969,247.8 969.2,247.7 969.5,249.3 969.8,248.6 970,246.8 970.2,246.7 970.5,248.5 970.8,250.5 971,250.4 971.2,250.6 971.5,251.9 971.8,251.4 972,252.7 972.2,251.8 972.5,252.6 972.8,255.5 973,256.4 973.2,257.4 973.5,254.2 973.8,255.5 974,260.0 974.2,257.8 974.5,259.2 974.8,261.4 975,263.3 975.2,265.9 975.5,267.1 975.8,271.1 976,270.8 976.2,279.3 976.5,282.0 976.8,281.3 977,283.5 977.2,286.7 977.5,295.3 977.8,289.4 978,299.0 978,300.5 978.2,297.2 978.5,283.4 978.8,292.7 979,295.8 979.2,292.2 979.5,287.2 979.8,278.7 980,279.5 980.2,280.7 980.5,278.9 980.8,279.5 981,277.6 981.2,275.4 981.5,273.5 981.8,273.0 982,268.4 982.2,267.4 982.5,265.1 982.8,266.0 983,265.4 983.2,265.7 983.5,264.9 983.8,264.5 984,265.5 984.2,265.2 984.5,264.5 984.8,264.5 985,265.1 985,264.2 985.2,264.8 985.5,264.7 985.8,267.8 986,267.2 986.2,266.2 986.5,268.1 986.8,266.3 987,267.7 987.2,270.5 987.5,273.9 987.8,274.9 988,274.1 988.2,275.4 988.5,277.0 988.8,276.2 989,275.0 989.2,276.3 989.2,278.0 989.5,275.5 989.8,273.5 990,275.2 990.2,274.2 990.5,271.1 990.8,270.6 991,267.9 991.2,267.3 991.5,270.0 991.8,261.9 992,255.6 992.2,257.3 992.5,264.1 992.8,263.4 993,260.5 993,255.5 993.2,255.5 993.5,255.9 993.8,257.6 994,259.0 994.2,262.3 994.5,263.7 994.8,262.7 995,263.3 995.2,261.7 995.5,263.1 995.8,262.6 996,263.8 996.2,264.0 996.5,262.9 996.8,264.9 997,265.9 997.2,267.7 997.5,271.1 997.8,271.1 998,270.2 998.2,270.0 998.5,267.3 998.8,267.9 999,269.9 999.2,274.7 999.2,275.5 999.5,274.5 999.8,275.4 1000,272.5 1000.2,270.1 1000.5,269.6 1000.8,270.6 1001,272.3 1001.2,270.2 1001.5,269.2 1001.8,269.6 1002,269.7 1002.2,270.2 1002.5,269.4 1002.8,270.1 1003,270.1 1003,269.2 1003.2,268.8 1003.5,269.7 1003.8,270.9 1004,270.0 1004.2,269.4 1004.5,272.9 1004.8,271.8 1005,270.4 1005.2,271.7 1005.5,271.4 1005.8,273.4 1006,276.4 1006.2,275.7 1006.5,274.8 1006.8,277.5 1007,275.8 1007.2,274.7 1007.5,278.0 1007.5,278.0 1007.8,276.4 1008,275.8 1008.2,277.3 1008.5,274.2 1008.8,271.0 1009,272.4 1009.2,272.2 1009.5,265.1 1009.8,263.9 1010,268.7 1010.2,266.8 1010.5,267.8 1010.8,271.1 1011,266.8 1011.2,268.9 1011.5,265.4 1011.8,260.6 1012,261.9 1012.2,260.8 1012.5,260.2 1012.8,260.1 1013,260.6 1013.2,258.6 1013.5,259.3 1013.5,258.0 1013.8,258.6 1014,258.6 1014.2,258.1 1014.5,257.8 1014.8,258.5 1015,259.3 1015.2,259.2 1015.5,259.2 1015.8,259.5 1016,260.4 1016.2,260.1 1016.5,260.6 1016.8,260.0 1017,259.8 1017.2,260.7 1017.5,260.7 1017.8,263.0 1018,263.1 1018.2,263.0 1018.5,262.8 1018.8,261.6 1019,264.0 1019.2,262.3 1019.5,264.5 1019.8,264.4 1020,264.5 1020.2,263.6 1020.5,265.9 1020.8,266.4 1021,267.1 1021.2,269.4 1021.5,267.3 1021.8,267.7 1022,275.0 1022.2,270.5 1022.5,274.1 1022.8,272.9 1023,275.6 1023.2,277.6 1023.5,277.9 1023.8,275.0 1024,281.0 1024.2,282.0 1024.5,284.1 1024.8,286.2 1025,289.3 1025.2,291.1 1025.5,291.5 1025.8,288.9 1026,290.3 1026.2,290.4 1026.5,292.6 1026.8,290.7 1027,297.1 1027.2,299.3 1027.5,299.6 1027.8,304.5 1028,302.9 1028.2,298.3 1028.5,297.8 1028.8,301.6 1029,309.6 1029.2,311.6 1029.5,315.2 1029.8,314.4 1030,315.9 1030.2,316.1 1030.5,323.4 1030.8,318.4 1031,322.4 1031.2,323.2 1031.5,325.0 1031.8,324.5 1032,325.0 1032.2,326.2 1032.5,327.0 1032.8,330.0 1033,349.4 1033.2,346.8 1033.5,353.5 1033.8,358.5 1034,356.8 1034.2,359.6 1034.5,379.0 1034.8,364.0 1034.8,385.5 1035,371.9 1035.2,371.1 1035.5,378.1 1035.8,378.7 1036,381.8 1036.2,357.7 1036.5,356.5 1036.8,355.5 1037,357.0 1037.2,356.9 1037.5,356.1 1037.8,356.0 1038,356.5 1038,355.5 1038.2,356.0 1038.5,356.3 1038.8,358.0 1039,358.2 1039.2,358.7 1039.5,356.4 1039.8,352.3 1040,358.2 1040,360.5 1040.2,353.0 1040.5,357.8 1040.8,352.0 1041,353.1 1041.2,351.2 1041.5,344.0 1041.8,342.0 1042,341.7 1042.2,340.3 1042.5,341.3 1042.8,341.6 1043,341.5 1043.2,340.9 1043.5,342.0 1043.5,340.5 1043.8,340.8 1044,346.8 1044.2,348.3 1044.5,345.6 1044.8,348.1 1045,346.4 1045.2,347.6 1045.5,351.2 1045.8,351.6 1046,353.7 1046.2,356.4 1046.5,356.0 1046.8,356.2 1047,354.3 1047.2,356.7 1047.5,359.9 1047.8,367.8 1048,366.0 1048.2,375.1 1048.5,379.4 1048.8,388.8 1049,386.8 1049.2,382.5 1049.2,389.2 1049.5,389.3 1049.8,381.5 1050,379.5 1050.2,379.7 1050.5,370.1 1050.8,358.4 1051,357.0 1051.2,351.8 1051.5,348.8 1051.8,350.2 1052,349.7 1052.2,343.4 1052.2,343.0 1052.5,345.1 1052.8,344.6 1053,343.4 1053.2,345.6 1053.5,345.4 1053.8,346.2 1054,346.6 1054.2,347.4 1054.2,348.0 1054.5,347.8 1054.8,346.2 1055,342.5 1055.2,342.3 1055.5,339.6 1055.8,336.2 1056,337.5 1056,335.5 1056.2,337.5 1056.5,336.7 1056.8,338.2 1057,338.9 1057.2,341.8 1057.5,341.7 1057.8,343.2 1058,341.3 1058,343.0 1058.2,339.7 1058.5,339.0 1058.8,338.7 1059,337.8 1059.2,336.9 1059.5,335.5 1059.8,337.5 1060,334.6 1060.2,332.1 1060.5,332.5 1060.8,331.3 1061,332.1 1061.2,331.6 1061.5,331.5 1061.8,330.4 1061.8,330.5 1062,330.0 1062.2,332.2 1062.5,333.5 1062.8,335.6 1063,335.4 1063.2,334.5 1063.5,334.9 1063.5,336.8 1063.8,336.3 1064,334.1 1064.2,333.0 1064.5,332.0 1064.8,333.1 1065,331.7 1065.2,328.3 1065.5,328.0 1065.8,327.6 1066,328.0 1066.2,328.0 1066.5,327.7 1066.8,327.8 1067,327.5 1067.2,327.2 1067.5,327.3 1067.8,326.5 1068,327.4 1068,326.8 1068.2,327.6 1068.5,328.1 1068.8,329.7 1069,327.6 1069.2,331.7 1069.5,332.7 1069.8,332.2 1070,333.3 1070,333.0 1070.2,332.2 1070.5,330.9 1070.8,331.8 1071,332.5 1071.2,331.2 1071.5,331.6 1071.8,328.9 1071.8,328.0 1072,332.0 1072.2,339.8 1072.5,341.3 1072.8,338.1 1073,340.2 1073,343.0 1073.2,338.4 1073.5,342.1 1073.8,336.6 1074,331.6 1074.2,325.5 1074.5,329.5 1074.8,327.9 1075,331.6 1075.2,328.2 1075.5,325.4 1075.8,324.8 1076,324.2 1076.2,323.9 1076.5,323.3 1076.8,321.5 1077,324.1 1077.2,324.1 1077.5,322.0 1077.8,322.8 1078,322.9 1078.2,322.1 1078.5,320.5 1078.8,320.6 1079,320.4 1079.2,320.0 1079.5,321.4 1079.8,320.1 1080,319.6 1080.2,317.6 1080.5,315.0 1080.8,317.2 1081,317.6 1081.2,313.2 1081.5,313.2 1081.8,310.5 1082,311.5 1082.2,308.8 1082.5,310.0 1082.8,308.8 1083,306.3 1083.2,307.9 1083.5,310.1 1083.8,309.0 1084,306.0 1084.2,303.7 1084.5,297.2 1084.8,294.9 1085,296.1 1085.2,290.8 1085.5,297.5 1085.8,288.8 1086,287.3 1086.2,292.5 1086.5,289.8 1086.8,283.7 1087,271.7 1087.2,276.3 1087.5,279.4 1087.8,279.5 1088,276.8 1088.2,276.5 1088.5,275.9 1088.8,271.6 1089,269.7 1089.2,276.4 1089.5,277.6 1089.8,260.8 1090,257.6 1090,255.5 1090.2,261.9 1090.5,270.7 1090.5,263.0 1090.8,267.1 1091,262.0 1091.2,260.0 1091.5,252.5 1091.8,270.2 1091.8,250.5 1092,266.0 1092.2,266.8 1092.5,269.0 1092.8,270.8 1093,271.5 1093,273.0 1093.2,269.3 1093.5,260.4 1093.8,256.3 1094,258.5 1094.2,256.0 1094.5,255.8 1094.8,255.1 1095,255.8 1095.2,255.8 1095.5,255.3 1095.8,255.7 1096,255.3 1096.2,255.4 1096.5,255.0 1096.8,255.2 1097,255.6 1097.2,255.6 1097.5,244.3 1097.5,243.8 1097.8,244.0 1098,251.8 1098.2,250.2 1098.5,252.2 1098.8,253.7 1099,251.8 1099.2,251.5 1099.5,254.5 1099.8,253.6 1100,252.8 1100,255.5 1100,253.0 1100.2,253.1 1100.5,261.6 1100.8,266.2 1101,268.9 1101.2,257.0 1101.5,266.8 1101.8,268.7 1102,266.4 1102.2,268.0 1102.5,268.8 1102.8,262.9 1103,258.7 1103.2,258.0 1103.5,261.8 1103.8,265.8 1104,262.1 1104.2,262.2 1104.5,260.4 1104.8,261.3 1105,263.3 1105,269.2 1105,255.5 1105.2,267.3 1105.5,268.9 1105.8,257.9 1106,262.6 1106.2,268.9 1106.5,269.5 1106.8,268.7 1107,268.8 1107.2,266.0 1107.5,269.8 1107.8,269.7 1108,266.6 1108.2,265.6 1108.5,263.3 1108.8,266.4 1109,261.4 1109.2,253.9 1109.5,257.3 1109.8,256.0 1110,261.0 1110.2,255.9 1110.5,257.0 1110.8,254.4 1111,252.5 1111.2,250.5 1111.5,252.8 1111.8,252.6 1112,251.9 1112,240.0 1112.2,250.0 1112.5,241.0 1112.8,240.0 1113,243.0 1113.2,244.4 1113.5,244.5 1113.5,245.0 1113.8,242.7 1114,242.7 1114.2,242.0 1114.5,240.9 1114.8,241.6 1115,239.6 1115.2,237.4 1115.5,237.7 1115.8,237.8 1116,238.0 1116.2,237.9 1116.2,237.5 1116.5,240.2 1116.8,240.0 1117,241.7 1117.2,240.2 1117.5,241.3 1117.8,239.2 1118,240.4 1118,243.8 1118.2,243.2 1118.5,243.1 1118.8,242.4 1119,241.5 1119.2,241.1 1119.5,242.4 1119.8,241.8 1120,241.8 1120.2,241.0 1120.5,239.3 1120.8,238.3 1121,238.2 1121.2,237.7 1121.5,238.2 1121.8,238.0 1122,236.4 1122.2,236.7 1122.5,235.6 1122.8,235.4 1123,236.0 1123,235.0 1123.2,235.3 1123.5,237.9 1123.8,237.3 1124,241.6 1124.2,243.6 1124.5,242.0 1124.8,245.4 1125,243.7 1125.2,246.2 1125.5,246.0 1125.8,245.7 1126,247.0 1126.2,247.5 1126.5,247.5 1126.8,248.5 1127,248.9 1127.2,250.7 1127.5,250.8 1127.8,251.5 1128,251.8 1128.2,253.1 1128.5,252.0 1128.8,253.9 1129,254.3 1129.2,255.4 1129.5,254.5 1129.8,254.4 1130,255.3 1130,255.5 1130,241.2 1130.2,255.4 1130.5,242.2 1130.8,245.9 1131,247.7 1131.2,248.3 1131.5,250.9 1131.8,251.0 1132,252.6 1132.2,251.9 1132.5,253.6 1132.8,252.3 1133,254.6 1133.2,257.0 1133.5,256.4 1133.8,254.6 1134,256.2 1134.2,255.8 1134.5,256.6 1134.8,256.2 1135,258.8 1135,260.5 1135.2,258.1 1135.5,257.7 1135.8,258.3 1136,257.5 1136.2,257.6 1136.5,256.8 1136.8,255.5 1137,256.7 1137,255.5 1137.2,270.0 1137.5,271.1 1137.8,267.2 1138,271.7 1138.2,255.2 1138.5,267.1 1138.8,281.6 1139,280.6 1139.2,290.9 1139.5,302.1 1139.8,294.5 1140,293.8 1140.2,308.1 1140.5,316.8 1140.8,313.9 1141,317.6 1141.2,315.6 1141.5,307.9 1141.8,317.1 1142,319.2 1142.2,323.4 1142.5,326.0 1142.8,329.8 1143,323.6 1143.2,319.4 1143.2,330.5 1143.5,325.9 1143.8,328.0 1144,326.2 1144.2,310.2 1144.5,305.6 1144.8,309.6 1145,304.8 1145.2,301.0 1145.5,311.6 1145.8,310.6 1146,313.8 1146.2,301.5 1146.5,300.4 1146.8,299.5 1147,297.3 1147.2,298.4 1147.5,298.2 1147.8,299.6 1148,300.2 1148.2,296.6 1148.5,295.9 1148.8,296.5 1149,296.9 1149.2,297.0 1149.5,295.3 1149.5,295.5 1149.8,296.2 1150,297.5 1150.2,300.0 1150.5,297.1 1150.8,297.9 1151,295.7 1151.2,300.0 1151.2,300.5 1151.5,299.6 1151.8,296.8 1152,299.3 1152.2,299.8 1152.5,296.9 1152.8,295.0 1153,295.8 1153,294.2 1153.2,296.4 1153.5,297.7 1153.8,297.9 1154,297.8 1154.2,298.0 1154.5,297.8 1154.8,297.6 1155,299.0 1155.2,300.0 1155.5,300.4 1155.8,300.4 1156,301.1 1156.2,301.8" fill="none" stroke="#000" stroke-width="2.4" stroke-linejoin="round" stroke-linecap="round"/>
<path d="M200,274.2 200.2,275.5 200.5,277.8 200.8,279.3 201,283.0 201.2,295.0 201.5,296.1 201.8,291.7 202,282.8 202.2,296.0 202.5,323.4 202.8,324.5 203,308.4 203.2,312.4 203.5,321.2 203.8,342.1 203.8,344.2 204,343.6 204.2,328.2 204.5,309.3 204.8,309.5 205,307.0 205.2,306.7 205.5,307.7 205.8,329.4 206,306.9 206.2,309.9 206.5,309.0 206.8,309.5 207,306.3 207,305.5 207.2,306.1 207.5,307.1 207.8,311.8 208,305.4 208,333.0 208.2,305.7 208.5,331.0 208.8,318.9 209,306.0 209.2,313.6 209.5,329.3 209.8,305.7 210,305.0 210,300.5 210.2,329.4 210.5,317.0 210.8,303.8 211,315.9 211.2,319.2 211.5,320.7 211.8,313.1 212,325.3 212,330.5 212.2,323.2 212.5,328.3 212.8,317.3 213,322.1 213.2,316.6 213.5,316.9 213.8,316.6 213.8,315.5 214,317.5 214.2,319.4 214.5,325.8 214.8,317.0 215,321.6 215.2,322.4 215.5,329.1 215.8,332.1 216,338.9 216.2,336.0 216.5,337.0 216.8,345.0 217,330.0 217.2,346.5 217.5,346.8 217.8,352.4 218,348.8 218.2,342.7 218.5,355.9 218.8,362.4 219,355.8 219.2,354.8 219.5,354.8 219.8,351.6 220,359.8 220.2,358.4 220.5,383.3 220.8,376.7 221,377.8 221.2,377.0 221.2,383.0 221.5,378.9 221.8,373.3 222,367.8 222.2,368.7 222.5,357.2 222.8,350.3 223,343.4 223.2,351.6 223.5,349.8 223.8,343.8 224,345.7 224.2,340.5 224.5,328.4 224.8,332.5 225,330.8 225.2,330.5 225.5,326.7 225.8,326.2 226,321.0 226.2,314.7 226.5,318.4 226.8,315.4 227,311.2 227.2,308.2 227.5,306.9 227.8,306.2 228,304.5 228,303.0 228.2,305.3 228.5,307.6 228.8,325.8 229,328.2 229.2,332.4 229.5,332.3 229.5,333.0 229.8,323.0 230,313.3 230.2,311.2 230.5,298.5 230.8,308.9 231,303.0 231.2,302.9 231.2,298.0 231.5,302.9 231.8,315.2 232,310.0 232.2,314.5 232.5,320.4 232.8,335.9 233,321.0 233.2,328.5 233.5,321.8 233.8,333.9 234,339.7 234.2,348.1 234.5,351.0 234.5,355.5 234.8,336.7 235,345.2 235.2,351.7 235.5,337.4 235.8,324.8 236,321.6 236.2,320.9 236.2,320.5 236.5,320.5 236.8,321.4 237,321.1 237.2,322.6 237.5,323.2 237.8,322.6 238,322.5 238.2,321.9 238.5,325.3 238.8,328.9 239,323.0 239.2,329.9 239.5,338.3 239.8,351.2 240,350.5 240.2,365.3 240.5,360.7 240.8,364.9 241,362.0 241.2,365.2 241.2,365.5 241.5,363.3 241.8,365.4 242,363.4 242.2,363.9 242.5,363.0 242.8,372.7 243,371.2 243,363.0 243.2,364.2 243.5,363.9 243.8,373.3 244,387.2 244.2,376.6 244.5,378.1 244.8,366.6 245,376.0 245.2,365.3 245.5,369.6 245.8,373.2 246,405.8 246.2,406.9 246.5,430.8 246.8,394.2 247,423.8 247.2,401.2 247.5,409.9 247.5,434.8 247.8,425.0 248,410.8 248.2,433.7 248.5,393.6 248.8,409.6 248.8,388.0 249,400.9 249.2,389.8 249.5,396.4 249.5,411.0 249.8,367.8 250,399.4 250.2,408.2 250.5,375.1 250.8,363.6 251,358.1 251.2,370.6 251.2,358.0 251.5,383.9 251.8,374.0 252,383.1 252.2,377.7 252.5,367.6 252.8,392.7 253,367.1 253.2,361.8 253.5,362.9 253.8,378.9 254,387.2 254.2,384.5 254.5,399.1 254.8,378.8 255,391.5 255,401.0 255.2,397.7 255.5,395.6 255.8,386.7 256,371.4 256.2,381.2 256.5,380.5 256.8,368.0 257,374.9 257.2,374.7 257.5,368.1 257.8,379.1 258,365.3 258.2,357.0 258.5,355.3 258.8,357.9 259,364.7 259.2,362.4 259.5,357.6 259.5,355.5 259.8,362.1 260,376.8 260.2,386.7 260.5,373.9 260.8,384.1 261,363.3 261.2,387.1 261.5,379.2 261.8,386.7 262,390.4 262.2,403.7 262.5,409.1 262.8,404.7 263,392.7 263.2,392.0 263.5,394.6 263.8,392.4 264,406.6 264.2,394.5 264.5,404.9 264.8,413.5 265,398.4 265,414.8 265,388.0 265.2,371.9 265.5,398.6 265.8,400.8 266,398.9 266.2,393.8 266.2,401.0 266.5,391.8 266.8,390.0 267,389.2 267.2,388.5 267.5,368.5 267.5,368.0 267.8,368.2 268,380.7 268.2,370.0 268.5,371.6 268.8,368.0 269,368.2 269.2,370.9 269.5,371.5 269.5,373.0 269.8,362.1 270,369.9 270.2,370.4 270.5,363.0 270.8,365.8 271,367.4 271.2,361.8 271.2,358.0 271.5,364.2 271.8,359.0 272,370.0 272.2,386.9 272.5,383.1 272.8,372.1 273,383.8 273.2,387.3 273.5,395.9 273.8,402.6 274,388.4 274.2,384.6 274.5,398.1 274.8,387.0 275,401.3 275,403.5 275.2,403.1 275.5,401.2 275.8,402.8 276,401.2 276.2,400.3 276.5,398.5 276.8,361.3 277,358.6 277.2,363.1 277.5,362.5 277.8,358.4 278,359.4 278.2,362.7 278.5,352.0 278.8,357.8 279,362.1 279.2,356.2 279.2,351.8 279.5,354.1 279.8,358.0 280,353.5 280.2,360.7 280.5,354.0 280.8,364.7 281,385.5 281.2,396.1 281.5,389.1 281.8,395.9 282,374.1 282.2,394.2 282.5,395.8 282.5,406.0 282.5,390.5 282.8,392.2 283,397.6 283.2,405.9 283.5,411.8 283.8,403.9 284,400.1 284.2,417.4 284.5,420.4 284.8,418.7 285,413.1 285.2,416.2 285.5,418.7 285.8,419.3 286,422.5 286.2,421.2 286.5,421.7 286.8,422.4 287,424.1 287.2,422.3 287.5,422.6 287.8,423.1 288,427.8 288.2,427.6 288.5,427.8 288.8,428.0 289,423.8 289.2,431.6 289.5,430.1 289.8,432.5 290,430.5 290.2,433.5 290.5,434.9 290.5,436.0 290.8,433.2 291,430.6 291.2,423.9 291.5,416.9 291.8,418.2 292,426.2 292.2,417.9 292.5,417.3 292.5,416.0 292.8,421.3 293,418.9 293.2,419.1 293.5,422.2 293.8,421.0 294,420.9 294.2,421.5 294.5,420.7 294.8,422.9 295,418.2 295,423.5 295.2,422.7 295.5,419.6 295.8,422.8 296,420.1 296.2,419.3 296.5,422.8 296.8,418.2 297,420.9 297.2,420.7 297.5,415.3 297.5,413.5 297.8,416.8 298,415.5 298.2,415.9 298.5,418.2 298.8,415.4 299,414.1 299.2,424.1 299.5,421.7 299.8,418.1 300,422.5 300.2,427.3 300.5,423.4 300.8,424.6 301,429.4 301.2,436.1 301.5,443.5 301.8,439.6 302,447.9 302.2,447.0 302.5,445.5 302.8,450.6 303,453.0 303.2,447.8 303.5,447.8 303.8,449.1 304,445.9 304.2,447.5 304.5,446.7 304.8,451.8 305,456.0 305.2,457.3 305.5,457.6 305.8,456.1 306,462.0 306.2,458.0 306.5,457.4 306.8,463.8 307,469.2 307.2,477.6 307.5,466.3 307.8,462.8 308,468.2 308.2,472.4 308.5,475.9 308.8,481.4 309,475.7 309.2,482.4 309.5,484.1 309.8,484.8 310,478.9 310,486.0 310.2,479.7 310.5,482.8 310.8,476.4 311,471.0 311.2,480.2 311.5,455.4 311.8,456.7 312,452.4 312.2,448.9 312.5,447.4 312.8,448.9 313,449.8 313.2,441.4 313.5,452.2 313.8,460.6 314,448.4 314.2,445.4 314.5,458.1 314.8,449.0 315,447.6 315,438.5 315.2,445.1 315.5,441.9 315.8,447.8 316,446.2 316.2,439.5 316.2,453.5 316.5,447.2 316.8,432.3 317,444.6 317.2,440.2 317.5,432.3 317.8,433.1 318,441.9 318.2,410.6 318.5,438.9 318.8,436.6 319,402.3 319.2,413.6 319.5,406.7 319.8,383.9 320,411.1 320,380.5 320.2,386.2 320.5,396.0 320.8,391.4 321,392.4 321.2,397.2 321.2,398.5 321.5,395.9 321.8,392.9 322,393.8 322.2,403.5 322.5,410.7 322.5,390.5 322.8,392.2 323,394.1 323.2,393.8 323.5,391.5 323.8,403.3 323.8,414.8 324,413.0 324.2,410.9 324.5,412.5 324.8,414.2 325,411.8 325.2,408.5 325.5,401.8 325.8,405.4 326,402.9 326.2,401.0 326.5,405.7 326.8,400.7 327,390.4 327.2,387.2 327.5,389.3 327.5,384.2 327.8,392.6 328,393.3 328.2,399.7 328.5,393.2 328.8,399.2 329,403.6 329.2,402.9 329.5,399.2 329.8,400.8 330,407.1 330.2,410.2 330.5,410.6 330.8,413.1 331,410.1 331.2,415.0 331.5,420.3 331.8,416.2 332,426.1 332.2,425.0 332.5,426.7 332.8,428.0 333,424.4 333.2,427.2 333.5,430.8 333.8,432.5 334,432.4 334.2,434.8 334.5,441.2 334.8,433.7 335,442.0 335.2,440.6 335.5,445.9 335.8,450.3 336,454.4 336.2,454.5 336.5,456.0 336.8,462.2 337,459.5 337.2,463.4 337.5,469.7 337.8,469.1 338,472.3 338.2,472.8 338.5,469.0 338.8,476.0 339,474.3 339.2,481.7 339.5,475.1 339.8,481.2 340,487.5 340.2,487.0 340.5,487.9 340.8,483.0 341,481.2 341.2,482.5 341.5,492.2 341.8,501.5 342,501.2 342.2,501.3 342.5,493.8 342.5,502.2 342.8,494.9 343,487.7 343.2,484.5 343.5,491.7 343.8,487.6 344,487.5 344.2,493.3 344.5,486.6 344.8,479.1 345,479.2 345,478.5 345.2,479.3 345.5,486.0 345.8,483.5 346,481.6 346.2,480.6 346.5,483.4 346.8,484.3 347,489.3 347,491.0 347.2,485.4 347.5,482.0 347.8,488.7 348,482.5 348.2,488.6 348.5,486.0 348.8,477.3 349,478.8 349.2,477.1 349.5,465.1 349.8,463.9 350,471.4 350.2,467.5 350.5,456.8 350.8,450.2 351,449.0 351.2,447.4 351.5,449.8 351.8,446.9 352,442.6 352.2,438.9 352.5,436.8 352.8,435.6 353,439.9 353.2,439.8 353.5,438.9 353.8,443.1 353.8,436.0 354,444.8 354.2,445.1 354.5,447.6 354.8,443.0 355,447.5 355.2,442.8 355.5,443.8 355.8,441.4 356,446.3 356.2,441.7 356.2,448.5 356.5,446.5 356.8,447.3 357,444.2 357.2,443.0 357.5,446.9 357.8,441.6 358,432.2 358.2,434.1 358.5,432.7 358.8,434.2 359,432.0 359.2,430.8 359.5,425.9 359.8,433.9 360,429.8 360.2,430.2 360.5,427.4 360.8,429.1 361,429.2 361.2,422.6 361.5,424.5 361.8,427.9 362,424.4 362.2,425.8 362.5,414.4 362.8,411.7 363,410.6 363.2,412.0 363.5,417.3 363.8,413.8 363.8,409.8 364,416.1 364.2,419.7 364.5,415.7 364.8,421.7 365,417.9 365.2,412.3 365.5,418.3 365.8,420.4 366,419.9 366.2,431.9 366.5,426.6 366.8,428.7 367,429.8 367.2,426.9 367.5,431.2 367.8,437.5 368,437.7 368.2,444.5 368.5,441.6 368.8,444.5 369,433.9 369.2,437.5 369.5,447.5 369.8,442.1 370,438.8 370,447.2 370.2,432.4 370.5,433.4 370.8,433.7 371,443.5 371.2,446.1 371.5,430.4 371.8,432.2 372,432.1 372.2,423.0 372.5,416.4 372.8,418.1 373,421.0 373.2,420.3 373.5,427.8 373.8,429.7 374,427.1 374.2,416.8 374.5,415.6 374.8,420.4 375,426.4 375.2,417.5 375.5,410.2 375.8,418.3 376,418.7 376.2,410.9 376.2,409.8 376.5,411.2 376.8,427.4 377,428.7 377.2,424.8 377.5,428.2 377.8,424.7 378,437.7 378.2,427.2 378.5,422.4 378.8,458.1 379,430.4 379.2,441.0 379.5,426.2 379.8,429.1 380,427.3 380,462.2 380.2,460.1 380.5,456.5 380.8,461.3 381,459.7 381.2,459.7 381.5,455.7 381.8,458.1 382,449.9 382.2,450.2 382.5,452.5 382.8,450.4 383,451.5 383,449.8 383.2,451.4 383.5,460.4 383.8,455.9 384,456.8 384.2,458.3 384.5,459.1 384.8,463.8 385,462.0 385.2,463.2 385.5,455.0 385.5,463.5 385.8,456.5 386,460.2 386.2,462.3 386.5,450.9 386.8,445.4 387,429.9 387.2,441.7 387.5,430.9 387.8,430.8 388,430.2 388.2,443.9 388.5,427.9 388.8,436.2 389,441.4 389.2,434.0 389.5,419.3 389.8,420.5 390,422.3 390.2,417.3 390.5,415.3 390.8,416.3 391,420.0 391.2,411.4 391.5,412.2 391.8,412.5 392,416.6 392.2,427.8 392.5,414.4 392.5,411.0 392.8,429.7 393,433.4 393.2,413.9 393.5,426.1 393.8,425.2 393.8,433.5 394,412.7 394.2,430.8 394.5,418.5 394.8,409.9 395,413.6 395.2,415.4 395.5,418.5 395.8,426.3 396,425.5 396.2,418.8 396.5,416.1 396.8,423.8 397,403.7 397.2,365.4 397.5,367.6 397.8,408.5 398,380.5 398.2,365.8 398.5,372.9 398.8,361.3 399,362.9 399.2,360.0 399.5,360.6 399.5,358.0 399.8,359.8 400,358.4 400.2,358.5 400.5,358.0 400.8,360.1 401,361.9 401.2,365.1 401.5,362.5 401.8,370.6 402,367.1 402.2,367.0 402.5,363.5 402.8,377.6 403,375.8 403,378.0 403.2,375.9 403.5,375.9 403.8,376.2 404,377.2 404.2,376.1 404.5,373.3 404.8,375.4 405,374.5 405,370.5 405.2,376.8 405.5,404.2 405.8,395.9 406,396.9 406.2,398.6 406.5,393.5 406.8,394.5 407,384.3 407.2,407.7 407.5,391.5 407.5,408.5 407.8,408.6 408,403.6 408.2,405.5 408.5,407.3 408.8,407.9 409,406.4 409.2,406.6 409.5,404.5 409.8,406.4 410,402.3 410,401.0 410.2,401.4 410.5,402.7 410.8,407.6 411,401.0 411.2,418.7 411.5,427.2 411.8,430.1 412,432.3 412.2,431.4 412.5,426.8 412.8,428.9 413,428.5 413,433.5 413.2,428.0 413.5,433.1 413.8,434.1 414,423.9 414.2,379.9 414.5,419.0 414.8,379.4 415,378.8 415.2,406.1 415.5,413.8 415.8,412.1 416,408.0 416.2,380.4 416.5,373.4 416.8,373.6 417,377.3 417,373.0 417.2,373.6 417.5,374.1 417.5,398.5 417.8,397.8 418,399.1 418.2,392.0 418.2,391.8 418.5,405.4 418.8,403.5 419,413.0 419.2,412.4 419.5,403.4 419.8,413.3 420,414.8 420.2,417.8 420.5,398.9 420.8,402.3 421,410.0 421.2,420.3 421.2,421.0 421.5,417.0 421.8,415.1 422,413.4 422.2,416.4 422.5,416.4 422.8,418.4 423,411.7 423.2,412.9 423.5,412.5 423.8,404.5 424,409.7 424.2,408.1 424.5,409.3 424.8,402.3 425,404.8 425.2,403.8 425.5,402.0 425.8,396.5 426,400.0 426.2,395.0 426.5,400.2 426.8,397.1 427,393.3 427,391.8 427.2,407.7 427.5,426.8 427.8,429.1 428,416.6 428.2,421.9 428.5,417.1 428.8,423.4 428.8,429.8 429,426.2 429.2,427.3 429.5,424.8 429.8,420.8 430,409.3 430.2,410.5 430.5,404.5 430.8,407.4 431,414.9 431.2,410.0 431.5,405.4 431.8,405.6 432,401.9 432.2,395.9 432.5,396.2 432.8,396.2 433,393.5 433.2,395.7 433.5,398.5 433.8,394.7 433.8,393.0 434,393.3 434.2,392.7 434.5,393.1 434.8,397.1 435,397.6 435,398.5 435.2,397.7 435.5,379.7 435.8,378.6 436,376.5 436.2,351.6 436.5,364.3 436.8,359.3 437,349.2 437,348.0 437.2,349.1 437.5,348.4 437.8,350.0 438,350.1 438.2,350.5 438.5,353.5 438.8,351.9 438.8,353.0 439,352.1 439.2,351.0 439.5,350.6 439.8,351.7 440,348.4 440.2,347.4 440.5,344.9 440.8,345.6 441,340.1 441.2,341.8 441.5,338.0 441.8,332.3 442,333.1 442.2,333.9 442.5,327.8 442.5,325.5 442.8,328.7 443,331.0 443.2,330.4 443.5,337.9 443.8,336.7 444,345.6 444.2,338.5 444.5,345.9 444.8,341.7 445,342.3 445,348.0 445.2,345.8 445.5,336.7 445.8,330.5 446,328.2 446.2,326.7 446.5,318.2 446.8,322.5 447,320.5 447.2,324.2 447.5,321.7 447.8,314.7 448,294.0 448.2,301.0 448.5,292.3 448.8,283.3 449,281.9 449.2,274.7 449.5,275.7 449.8,273.2 450,268.9 450.2,265.0 450.5,267.1 450.8,272.6 450.8,264.2 451,273.0 451.2,269.9 451.5,272.9 451.8,276.9 452,269.8 452.2,279.5 452.5,278.9 452.8,290.4 453,295.1 453.2,303.0 453.5,291.7 453.8,304.2 453.8,305.5 454,300.1 454.2,296.5 454.5,291.8 454.8,295.1 455,291.3 455.2,291.3 455.5,291.9 455.5,290.5 455.8,292.9 456,291.6 456.2,291.5 456.5,293.1 456.8,294.8 457,295.8 457.2,289.5 457.5,292.0 457.5,295.5 457.8,287.6 458,287.4 458.2,288.4 458.5,295.5 458.8,285.8 459,288.4 459.2,290.1 459.5,290.3 459.8,289.0 460,287.4 460.2,272.7 460.5,279.0 460.8,252.2 461,251.1 461.2,254.1 461.5,254.0 461.8,260.0 462,251.1 462.2,252.5 462.5,247.2 462.8,244.4 463,247.7 463.2,243.6 463.5,234.5 463.8,234.2 464,228.6 464.2,231.6 464.5,238.0 464.8,230.4 465,231.2 465.2,229.2 465.5,235.2 465.5,227.5 465.8,238.5 466,245.6 466.2,240.8 466.5,239.8 466.8,242.9 467,256.1 467.2,247.3 467.5,249.2 467.8,251.7 468,257.0 468.2,252.4 468.5,255.8 468.8,259.5 469,272.7 469.2,274.9 469.5,267.3 469.8,264.6 470,257.8 470.2,263.9 470.5,272.9 470.8,283.9 471,271.0 471.2,269.3 471.5,276.3 471.8,276.2 472,290.2 472.2,289.4 472.5,292.4 472.8,290.0 473,288.9 473.2,289.8 473.5,302.0 473.8,297.9 474,298.8 474.2,324.9 474.5,307.5 474.8,302.9 475,306.9 475.2,299.3 475.5,312.0 475.8,329.5 476,332.0 476.2,337.3 476.5,335.0 476.8,340.3 477,336.1 477,341.8 477.2,333.1 477.5,339.8 477.8,335.7 478,339.6 478.2,336.6 478.5,339.2 478.8,330.7 479,327.1 479.2,308.9 479.5,294.1 479.8,296.2 480,293.6 480.2,293.8 480.2,293.0 480.5,306.0 480.8,306.8 481,311.0 481.2,311.2 481.5,313.0 481.8,304.9 482,313.9 482.2,313.2 482.5,314.1 482.8,318.0 483,318.4 483.2,317.5 483.5,318.8 483.8,318.6 484,317.4 484,320.5 484.2,319.5 484.5,303.6 484.8,310.2 485,309.2 485.2,303.4 485.5,305.3 485.8,301.6 486,302.8 486,298.0 486.2,302.7 486.5,308.6 486.8,301.3 487,301.1 487.2,302.5 487.5,312.6 487.8,321.5 488,329.2 488.2,328.4 488.5,336.9 488.8,325.0 489,327.8 489.2,331.8 489.5,342.3 489.8,353.4 490,328.5 490.2,330.7 490.5,341.4 490.8,345.9 491,345.9 491.2,346.8 491.5,352.2 491.8,353.9 492,349.0 492.2,347.8 492.5,354.2 492.8,354.8 493,355.4 493.2,353.7 493.5,354.8 493.8,355.6 494,365.0 494.2,378.7 494.5,379.4 494.8,379.3 495,377.8 495.2,378.8 495.5,380.2 495.8,379.1 496,380.4 496.2,379.8 496.5,379.3 496.8,379.8 497,405.4 497.2,398.6 497.5,379.9 497.8,403.7 498,398.2 498.2,406.4 498.2,414.8 498.5,398.6 498.8,401.2 499,398.3 499.2,400.3 499.5,380.1 499.8,400.6 500,393.1 500.2,393.9 500.2,378.0 500.5,380.2 500.8,402.2 501,403.2 501.2,409.6 501.5,405.6 501.8,410.5 502,403.4 502.2,403.3 502.5,399.2 502.8,407.8 503,411.9 503.2,397.4 503.5,389.6 503.5,413.5 503.8,389.8 504,384.7 504,388.0 504.2,375.7 504.5,397.9 504.8,396.1 505,392.7 505.2,376.6 505.5,388.7 505.5,398.5 505.8,393.1 506,377.9 506.2,382.8 506.5,383.5 506.5,375.5 506.8,385.3 507,383.3 507.2,384.2 507.5,378.2 507.8,381.2 508,396.9 508.2,391.8 508.5,406.6 508.8,390.8 509,388.6 509.2,392.8 509.5,399.1 509.5,409.8 509.8,385.6 510,405.5 510.2,387.6 510.5,397.0 510.8,384.4 511,375.0 511.2,377.3 511.5,373.8 511.8,373.2 512,364.9 512.2,369.4 512.5,373.6 512.8,365.5 513,360.1 513.2,366.9 513.5,353.8 513.8,362.8 514,367.9 514.2,353.4 514.5,337.5 514.8,348.7 515,340.7 515.2,335.3 515.5,350.4 515.8,337.7 516,324.4 516.2,342.2 516.5,333.5 516.5,323.0 516.8,328.8 517,330.7 517.2,330.4 517.5,324.7 517.8,334.8 518,339.2 518.2,338.0 518.5,331.9 518.5,340.5 518.8,339.7 519,338.9 519.2,340.3 519.5,333.7 519.8,306.9 520,334.0 520.2,324.3 520.5,336.3 520.8,331.2 521,300.3 521.2,288.9 521.5,298.4 521.8,295.5 522,292.8 522,288.0 522.2,295.7 522.5,319.0 522.8,312.7 523,314.5 523.2,318.6 523.5,322.8 523.8,312.7 524,322.0 524.2,319.0 524.5,322.9 524.8,323.8 525,318.9 525.2,334.7 525.5,320.7 525.8,337.0 526,349.4 526.2,355.5 526.5,351.1 526.8,361.2 527,349.9 527.2,349.9 527.5,364.8 527.8,375.2 528,371.2 528.2,378.1 528.5,370.5 528.5,378.0 528.8,376.8 529,376.3 529.2,359.5 529.5,337.5 529.8,340.5 530,326.8 530.2,324.1 530.5,312.9 530.8,307.2 531,305.4 531.2,323.2 531.5,309.8 531.8,321.3 532,320.6 532,303.0 532.2,324.7 532.5,318.9 532.8,303.7 533,304.5 533.2,312.3 533.5,330.2 533.8,317.4 534,317.2 534,333.0 534.2,317.8 534.5,321.9 534.8,325.4 535,319.3 535.2,317.0 535.5,318.9 535.8,317.9 536,320.4 536.2,301.5 536.5,305.4 536.8,299.9 537,295.1 537.2,290.6 537.5,290.0 537.8,297.9 537.8,289.2 538,289.8 538.2,293.3 538.5,298.2 538.8,296.0 539,303.4 539.2,316.3 539.5,313.6 539.8,319.0 540,312.4 540.2,319.2 540.5,321.3 540.8,332.8 541,339.5 541,340.5 541.2,336.7 541.5,329.6 541.8,327.9 542,328.5 542.2,331.8 542.5,320.6 542.8,319.0 543,320.8 543.2,316.9 543.5,317.4 543.8,309.5 544,313.7 544.2,311.2 544.5,316.7 544.5,308.0 544.8,315.0 545,315.3 545.2,324.7 545.5,323.4 545.8,320.0 546,328.1 546.2,329.8 546.5,341.2 546.8,341.3 547,346.1 547.2,343.1 547.5,347.3 547.8,351.3 548,352.9 548.2,364.7 548.5,363.3 548.5,368.0 548.8,361.9 549,362.3 549.2,349.2 549.5,343.4 549.8,349.1 550,343.2 550.2,338.8 550.5,335.8 550.8,339.1 551,336.9 551.2,337.2 551.5,331.1 551.8,334.8 552,333.5 552,330.5 552.2,340.5 552.5,334.1 552.8,333.5 553,331.8 553.2,337.3 553.5,340.5 553.8,344.0 554,343.0 554,348.0 554.2,348.4 554.5,346.8 554.8,345.3 555,343.7 555.2,345.9 555.5,346.8 555.8,343.3 556,344.1 556,343.0 556.2,353.9 556.5,358.9 556.8,356.0 557,343.9 557.2,365.0 557.5,368.6 557.8,373.5 558,367.8 558.2,367.3 558.5,379.1 558.8,380.2 559,376.9 559.2,384.3 559.5,386.5 559.5,388.0 559.8,385.5 560,382.0 560.2,385.9 560.5,385.9 560.8,386.1 561,385.5 561.2,382.3 561.5,384.3 561.5,378.0 561.8,387.6 562,378.7 562.2,385.4 562.5,393.7 562.8,390.6 563,390.5 563.2,388.1 563.5,395.4 563.8,395.3 564,394.1 564,403.5 564.2,394.3 564.5,387.8 564.8,400.3 565,395.5 565.2,394.1 565.2,383.0 565.5,400.9 565.8,387.5 566,384.9 566.2,402.3 566.5,417.5 566.8,419.5 567,420.6 567.2,422.4 567.5,420.5 567.8,423.3 568,420.8 568.2,423.5 568.5,422.1 568.8,429.2 569,426.0 569.2,433.0 569.5,434.0 569.8,434.4 570,440.7 570.2,438.6 570.5,442.5 570.8,439.2 570.8,443.5 571,436.7 571.2,442.9 571.5,427.8 571.8,418.7 572,417.0 572.2,424.9 572.5,414.6 572.8,407.6 573,410.4 573.2,403.6 573.5,410.4 573.8,404.8 574,413.1 574.2,411.1 574.5,402.7 574.8,405.3 575,398.1 575.2,399.3 575.5,392.5 575.8,379.1 576,373.9 576,370.5 576.2,385.9 576.5,375.7 576.8,380.5 577,378.5 577.2,377.6 577.5,377.7 577.8,378.2 578,379.4 578.2,375.1 578.5,378.6 578.8,381.4 579,385.3 579.2,381.7 579.5,383.1 579.5,388.0 579.8,385.5 580,387.8 580.2,376.2 580.5,377.8 580.8,382.8 581,372.9 581.2,379.8 581.5,383.5 581.5,373.0 581.8,375.5 582,405.9 582.2,389.2 582.5,373.6 582.8,392.3 583,403.7 583.2,374.8 583.5,406.1 583.5,408.5 583.8,401.1 584,406.6 584.2,404.2 584.5,381.0 584.8,376.2 585,365.8 585.2,366.9 585.5,383.0 585.8,366.8 586,368.8 586.2,364.1 586.5,365.2 586.8,366.0 587,361.4 587.2,362.9 587.5,360.0 587.8,361.2 588,358.6 588.2,357.7 588.5,358.5 588.8,358.8 589,320.9 589.2,315.3 589.5,355.9 589.8,329.6 590,313.4 590.2,317.5 590.5,321.6 590.8,342.8 591,317.5 591.2,312.1 591.5,313.0 591.8,315.8 592,313.6 592,310.5 592.2,314.4 592.5,311.9 592.8,321.4 593,330.6 593.2,333.1 593.5,327.1 593.8,333.1 594,339.7 594.2,330.5 594.5,329.1 594.8,339.6 595,336.3 595.2,347.4 595.5,323.4 595.8,341.5 596,340.1 596,348.0 596.2,329.6 596.5,345.7 596.8,309.6 597,334.3 597.2,345.1 597.5,323.7 597.8,310.6 598,347.5 598.2,336.6 598.5,309.3 598.8,310.0 599,338.3 599.2,326.2 599.5,311.0 599.5,308.0 599.8,308.5 600,317.4 600.2,310.5 600.5,310.1 600.8,317.5 601,318.2 601.2,300.0 601.5,302.3 601.5,318.0 601.8,309.0 602,309.4 602.2,310.2 602.5,311.7 602.8,313.0 603,317.1 603.2,315.5 603.5,307.8 603.8,303.1 604,299.0 604.2,306.8 604.5,299.8 604.8,308.5 605,299.7 605.2,299.1 605.2,298.0 605.5,302.2 605.8,303.8 606,299.6 606.2,301.8 606.5,283.3 606.8,290.7 607,295.7 607,305.5 607.2,290.2 607.5,298.1 607.8,284.5 608,282.4 608.2,277.9 608.5,286.2 608.8,291.6 609,273.4 609.2,274.6 609.5,275.0 609.8,277.1 610,279.9 610.2,278.3 610.5,273.3 610.8,274.4 611,272.9 611,273.0 611.2,284.6 611.5,274.1 611.8,277.2 612,274.4 612.2,283.8 612.5,280.7 612.8,284.7 612.8,285.5 613,281.7 613.2,282.2 613.5,282.3 613.8,285.6 614,281.4 614.2,281.0 614.5,284.5 614.8,280.3 615,271.1 615.2,269.4 615.5,273.6 615.8,269.7 616,259.1 616.2,258.1 616.5,265.5 616.5,258.0 616.8,258.0 617,259.1 617.2,260.4 617.5,262.6 617.8,263.5 618,259.4 618.2,261.7 618.5,261.7 618.5,265.5 618.8,259.0 619,256.5 619.2,252.8 619.5,253.8 619.5,249.2 619.8,249.6 620,253.1 620.2,266.2 620.5,266.2 620.8,266.5 621,277.9 621.2,278.9 621.5,277.1 621.8,277.0 622,277.4 622.2,279.9 622.5,278.3 622.8,283.8 623,282.4 623.2,282.4 623.5,287.4 623.8,285.1 624,280.6 624.2,287.5 624.5,288.2 624.5,290.5 624.8,288.9 625,289.5 625.2,289.7 625.5,288.2 625.8,289.5 626,289.1 626.2,288.6 626.5,289.8 626.5,288.0 626.8,293.3 627,289.2 627.2,289.9 627.5,297.2 627.8,299.0 627.8,303.0 628,292.8 628.2,300.9 628.5,291.8 628.8,301.5 629,290.9 629.2,298.4 629.5,295.9 629.5,290.5 629.8,300.1 630,303.1 630.2,300.9 630.5,299.5 630.8,292.0 631,292.1 631.2,294.0 631.5,309.7 631.8,306.7 632,290.9 632.2,293.1 632.5,319.5 632.8,318.3 633,308.8 633.2,321.7 633.5,322.4 633.8,307.6 634,315.1 634.2,329.5 634.5,346.6 634.8,320.8 635,331.3 635.2,342.7 635.2,348.0 635.5,346.8 635.8,343.6 636,344.0 636.2,352.7 636.5,354.4 636.8,346.9 637,346.7 637.2,344.2 637.5,343.5 637.8,355.5 637.8,343.0 638,352.9 638.2,344.6 638.5,347.9 638.8,361.2 639,358.5 639.2,361.2 639.5,360.3 639.8,358.1 640,361.2 640.2,361.4 640.5,360.7 640.8,349.1 641,361.3 641.2,361.3 641.5,361.0 641.5,361.8 641.8,361.2 642,357.5 642.2,357.9 642.5,362.0 642.8,361.8 643,356.6 643.2,357.4 643.5,361.7 643.8,348.5 644,341.0 644.2,340.9 644.5,335.4 644.8,336.3 645,334.1 645.2,332.6 645.2,328.0 645.5,329.0 645.8,334.6 646,329.6 646.2,336.5 646.5,331.5 646.8,336.4 647,333.5 647,338.0 647.2,332.9 647.5,331.5 647.8,311.9 648,322.6 648.2,335.6 648.5,337.2 648.8,309.2 649,313.6 649,305.5 649.2,309.9 649.5,312.9 649.8,309.1 650,309.4 650.2,315.1 650.5,313.8 650.8,312.6 651,312.6 651.2,323.3 651.5,323.6 651.5,325.5 651.8,324.1 652,322.9 652.2,324.1 652.5,324.2 652.8,323.4 653,321.9 653.2,323.1 653.5,321.7 653.8,321.3 654,299.0 654.2,298.7 654.5,298.1 654.8,295.7 655,298.2 655.2,296.7 655.5,300.2 655.8,295.5 656,295.7 656.2,296.2 656.5,294.5 656.8,295.5 657,294.9 657.2,296.2 657.2,293.0 657.5,293.4 657.8,295.9 658,312.2 658.2,313.1 658.5,311.4 658.8,312.1 659,306.3 659.2,313.8 659.5,292.7 659.8,315.8 660,318.1 660.2,313.8 660.5,315.4 660.8,314.8 661,316.2 661,318.0 661.2,308.3 661.5,318.2 661.8,317.6 662,300.0 662.2,311.2 662.5,301.3 662.8,308.9 662.8,295.5 663,299.3 663.2,301.8 663.5,297.3 663.8,312.0 664,314.7 664.2,316.9 664.5,303.8 664.5,320.5 664.8,294.7 665,293.6 665.2,295.9 665.5,296.0 665.8,293.3 666,296.6 666.2,300.3 666.5,296.9 666.5,293.0 666.8,312.9 667,297.0 667.2,293.0 667.5,294.8 667.8,292.7 668,296.3 668.2,303.2 668.5,315.4 668.8,306.1 669,309.9 669.2,308.1 669.5,295.9 669.8,295.5 670,297.2 670.2,295.9 670.5,297.0 670.8,298.0 671,301.0 671.2,308.8 671.5,312.4 671.8,304.8 672,317.3 672.2,345.1 672.5,348.2 672.8,353.1 673,346.1 673.2,354.0 673.5,356.5 673.8,355.4 674,355.5 674.2,359.3 674.5,353.3 674.8,351.9 675,359.3 675.2,359.8 675.5,353.8 675.8,361.6 676,354.6 676,363.0 676.2,358.3 676.5,361.0 676.8,347.9 677,361.4 677.2,355.7 677.5,356.6 677.8,360.8 678,340.8 678.2,313.6 678.5,320.7 678.8,317.5 679,319.5 679.2,320.7 679.5,319.9 679.5,308.0 679.8,318.3 680,316.5 680.2,313.7 680.5,310.6 680.8,314.5 681,310.8 681.2,317.1 681.5,308.6 681.5,320.5 681.8,320.3 682,319.3 682.2,319.2 682.5,318.7 682.8,319.2 683,313.1 683.2,292.2 683.5,293.8 683.8,293.6 684,275.0 684.2,291.8 684.5,274.2 684.8,266.6 685,269.5 685.2,275.8 685.5,264.1 685.8,262.6 686,267.5 686.2,266.3 686.5,278.7 686.8,274.1 687,270.8 687,258.0 687.2,264.1 687.5,264.8 687.8,274.1 688,258.0 688.2,265.6 688.5,259.8 688.5,278.0 688.8,260.4 689,266.2 689.2,277.0 689.5,274.3 689.8,276.5 690,266.2 690.2,270.3 690.2,265.5 690.5,271.4 690.8,284.3 691,275.8 691.2,271.8 691.5,266.3 691.8,267.6 692,266.4 692.2,266.8 692.5,287.2 692.8,282.1 693,287.9 693.2,288.5 693.5,288.6 693.8,290.3 694,291.1 694.2,295.3 694.5,307.2 694.8,302.4 695,302.4 695.2,309.7 695.5,317.3 695.8,315.2 696,317.9 696.2,296.9 696.5,299.6 696.8,312.8 697,322.8 697.2,325.5 697.5,330.3 697.8,325.5 697.8,335.5 698,321.4 698.2,319.4 698.5,334.8 698.8,311.5 699,310.2 699.2,307.8 699.5,309.1 699.8,303.7 699.8,300.5 700,308.7 700.2,307.0 700.5,309.2 700.8,308.3 701,312.2 701.2,310.5 701.5,337.7 701.8,350.4 702,340.0 702.2,327.8 702.5,352.9 702.8,348.1 703,341.1 703.2,335.9 703.5,346.2 703.8,354.5 704,351.0 704.2,347.8 704.5,355.3 704.8,356.3 705,355.6 705.2,356.3 705.5,357.5 705.8,359.1 706,358.8 706.2,363.5 706.5,366.2 706.8,362.9 707,365.6 707.2,367.4 707.5,368.6 707.8,367.6 708,362.0 708.2,370.2 708.5,370.1 708.8,369.3 709,364.1 709,370.5 709.2,369.7 709.5,361.3 709.8,358.2 710,357.6 710.2,359.1 710.5,359.9 710.8,359.2 711,369.0 711,353.0 711.2,364.5 711.5,357.1 711.8,354.2 712,353.0 712.2,358.9 712.5,355.5 712.8,354.5 712.8,355.5 713,355.4 713.2,343.1 713.5,351.8 713.8,341.5 714,341.6 714.2,334.0 714.5,335.3 714.5,333.0 714.8,344.0 715,343.6 715.2,336.9 715.5,334.8 715.8,344.9 716,336.7 716.2,335.6 716.5,330.8 716.5,348.0 716.8,339.6 717,335.9 717.2,342.3 717.5,336.5 717.8,335.8 718,337.4 718.2,336.2 718.5,335.7 718.8,329.3 719,314.2 719.2,323.6 719.5,311.0 719.8,308.5 720,309.9 720.2,317.1 720.2,305.5 720.5,310.6 720.8,310.9 721,312.0 721.2,312.5 721.5,296.4 721.8,286.9 722,287.5 722,313.0 722.2,304.9 722.5,310.5 722.8,307.1 723,304.2 723.2,308.8 723.5,312.5 723.8,288.2 724,284.8 724.2,288.5 724.5,280.9 724.8,281.0 725,273.9 725.2,275.0 725.5,275.9 725.8,276.8 726,281.6 726.2,279.8 726.5,275.0 726.8,287.1 727,282.8 727.2,291.8 727.5,284.8 727.8,273.8 727.8,273.0 728,273.9 728.2,280.7 728.5,285.4 728.8,286.5 729,290.8 729.2,291.9 729.5,289.0 729.5,293.0 729.8,293.1 730,292.0 730.2,291.6 730.5,284.7 730.8,287.3 731,281.4 731.2,281.7 731.5,284.9 731.5,280.5 731.8,287.4 732,287.1 732.2,290.2 732.5,283.1 732.8,290.1 733,296.1 733.2,291.2 733.5,310.5 733.8,318.8 734,318.4 734.2,305.7 734.5,316.9 734.8,325.1 735,300.5 735.2,291.7 735.2,326.8 735.5,291.0 735.8,302.3 736,286.8 736.2,289.7 736.5,300.5 736.8,297.3 737,280.1 737.2,293.6 737.5,278.5 737.8,280.4 738,261.2 738.2,272.4 738.5,264.4 738.8,255.5 739,253.5 739,253.0 739.2,256.2 739.5,257.9 739.8,263.5 740,267.9 740.2,268.7 740.5,272.3 740.8,266.7 741,270.7 741,275.5 741.2,272.4 741.5,264.3 741.8,265.5 742,265.6 742.2,264.2 742.5,269.1 742.8,264.9 742.8,263.0 743,265.2 743.2,263.8 743.5,263.8 743.8,272.0 744,275.3 744.2,275.5 744.5,261.7 744.5,278.0 744.8,268.0 745,256.5 745.2,253.3 745.5,257.8 745.8,247.5 746,252.8 746.2,272.3 746.5,255.7 746.8,258.6 747,246.0 747.2,243.5 747.5,253.5 747.8,251.2 747.8,241.2 748,250.4 748.2,245.6 748.5,240.9 748.8,245.8 749,267.6 749.2,269.9 749.5,256.6 749.8,265.9 750,260.5 750.2,262.6 750.2,270.5 750.5,253.2 750.8,245.3 751,259.7 751.2,256.9 751.5,247.6 751.8,254.1 752,256.5 752,237.5 752.2,259.5 752.5,261.2 752.8,267.2 753,267.8 753.2,264.1 753.5,263.0 753.8,260.0 754,260.7 754.2,258.7 754.5,267.9 754.8,263.9 755,265.0 755.2,267.8 755.5,266.9 755.8,255.4 756,262.0 756,273.0 756.2,250.0 756.5,252.9 756.8,251.8 757,259.5 757.2,259.3 757.5,252.5 757.8,267.7 758,263.5 758.2,250.6 758.5,252.5 758.8,254.1 759,255.1 759.2,261.3 759.5,246.3 759.8,243.7 760,247.0 760.2,247.9 760.5,236.7 760.8,233.1 761,236.5 761.2,232.7 761.5,229.3 761.8,231.7 762,250.3 762.2,267.5 762.2,226.2 762.5,277.1 762.8,277.9 762.8,253.0 763,245.4 763.2,276.3 763.2,245.0 763.5,260.1 763.8,265.8 764,262.4 764.2,268.1 764.5,242.6 764.5,278.0 764.8,248.7 765,274.6 765.2,275.9 765.5,255.1 765.8,274.4 766,274.3 766.2,274.6 766.5,277.4 766.5,273.0 766.8,273.3 767,275.6 767.2,275.0 767.5,275.5 767.8,275.0 768,280.5 768.2,300.1 768.5,287.9 768.5,301.8 768.8,259.4 769,288.1 769.2,294.1 769.5,291.4 769.8,292.5 770,296.8 770.2,299.4 770.5,298.4 770.8,283.3 771,280.3 771.2,245.2 771.5,239.9 771.5,240.0 771.8,245.5 772,248.3 772.2,243.5 772.5,242.8 772.8,246.1 773,247.9 773.2,249.1 773.5,251.1 773.8,257.4 774,258.1 774.2,253.5 774.5,255.1 774.8,258.7 775,261.2 775.2,253.2 775.5,258.1 775.8,255.9 776,261.0 776.2,271.5 776.5,270.8 776.8,276.6 777,280.4 777.2,280.8 777.5,277.9 777.8,282.5 778,281.8 778.2,283.3 778.5,289.6 778.8,277.7 779,278.6 779.2,278.0 779.5,285.5 779.8,292.7 780,299.1 780.2,288.2 780.5,289.4 780.8,289.2 781,297.2 781.2,296.3 781.5,292.2 781.8,297.2 782,294.7 782.2,298.6 782.5,316.7 782.8,327.7 783,321.8 783.2,320.0 783.5,330.3 783.8,340.6 784,349.2 784.2,338.6 784.5,349.9 784.8,345.4 785,343.0 785.2,341.0 785.2,353.0 785.5,350.3 785.8,301.1 786,306.8 786.2,303.7 786.5,307.6 786.5,300.5 786.8,305.6 787,304.6 787.2,303.0 787.5,322.5 787.8,326.1 788,316.9 788.2,329.6 788.5,335.1 788.8,311.1 789,334.2 789.2,333.0 789.5,333.6 789.8,321.0 790,331.9 790.2,335.1 790.2,335.5 790.5,328.9 790.8,332.3 791,327.8 791.2,331.0 791.5,333.1 791.8,329.4 792,335.5 792,328.0 792.2,344.9 792.5,367.8 792.8,371.3 793,371.4 793.2,369.0 793.5,372.5 793.8,372.5 794,358.6 794,373.0 794.2,369.7 794.5,366.1 794.8,368.3 795,361.1 795.2,357.1 795.5,358.8 795.8,359.5 796,357.0 796,355.5 796.2,359.4 796.5,366.2 796.8,365.9 797,362.3 797.2,366.2 797.5,360.6 797.8,354.1 798,367.9 798,368.0 798.2,358.6 798.5,365.1 798.8,354.2 799,341.5 799.2,337.9 799.5,336.3 799.8,337.2 800,341.2 800.2,345.6 800.5,350.1 800.8,340.9 801,338.0 801.2,337.4 801.5,337.4 801.8,344.7 801.8,333.0 802,340.3 802.2,350.4 802.5,347.3 802.8,340.8 803,337.1 803.2,335.4 803.5,341.3 803.8,347.1 804,363.8 804.2,356.2 804.5,359.6 804.8,369.4 805,352.9 805.2,348.7 805.5,356.8 805.8,368.0 806,366.8 806.2,364.6 806.5,372.7 806.8,369.9 806.8,373.0 807,365.9 807.2,368.5 807.5,360.7 807.8,361.0 808,371.3 808.2,362.6 808.5,371.3 808.8,345.7 809,340.2 809.2,332.8 809.5,344.9 809.8,345.6 810,318.4 810.2,321.2 810.5,331.7 810.8,322.9 811,312.3 811.2,319.2 811.5,315.7 811.8,311.8 811.8,310.5 812,322.0 812.2,327.6 812.5,321.5 812.8,318.6 813,324.0 813.2,329.1 813.5,326.1 813.5,330.5 813.8,329.3 814,330.3 814.2,317.6 814.5,315.2 814.8,328.7 815,322.3 815.2,321.1 815.5,317.7 815.5,315.5 815.8,315.3 816,328.0 816.2,343.2 816.5,339.7 816.8,340.1 817,342.0 817.2,338.2 817.5,344.3 817.5,345.5 817.8,333.4 818,345.6 818.2,324.5 818.5,329.4 818.8,342.4 819,336.6 819.2,334.7 819.5,339.1 819.8,340.2 820,340.1 820.2,323.9 820.5,326.8 820.5,320.5 820.8,331.7 821,321.6 821.2,356.4 821.5,349.1 821.8,341.0 822,347.8 822.2,338.3 822.5,352.8 822.5,358.0 822.8,337.4 823,337.2 823.2,356.4 823.5,333.8 823.8,328.0 824,333.8 824.2,334.1 824.2,328.0 824.5,328.5 824.8,336.5 825,343.9 825.2,347.7 825.5,345.5 825.8,339.2 826,336.4 826,348.0 826.2,343.6 826.5,340.1 826.8,343.9 827,341.5 827.2,348.7 827.5,341.0 827.5,335.5 827.8,346.3 828,344.6 828.2,346.9 828.5,342.1 828.8,356.1 829,357.3 829.2,357.8 829.2,360.5 829.5,357.3 829.8,351.0 830,350.9 830.2,345.9 830.5,331.7 830.8,320.8 831,339.4 831.2,354.4 831.5,329.7 831.8,328.6 832,325.2 832.2,316.5 832.5,322.7 832.5,313.0 832.8,330.9 833,327.1 833.2,327.5 833.5,326.7 833.8,318.1 834,329.4 834.2,328.1 834.2,333.0 834.5,316.0 834.8,317.6 835,329.0 835.2,338.3 835.5,316.8 835.5,311.8 835.8,312.4 836,330.4 836.2,343.5 836.5,334.0 836.8,318.0 837,342.1 837.2,333.3 837.5,303.7 837.5,344.2 837.8,302.4 838,311.4 838.2,303.4 838.5,313.1 838.8,324.1 839,307.4 839.2,304.1 839.5,343.4 839.8,303.5 840,311.9 840.2,320.5 840.5,304.5 840.8,303.0 841,304.5 841.2,305.1 841.5,297.6 841.8,299.4 841.8,296.8 842,296.7 842.2,312.1 842.5,304.8 842.8,305.7 843,323.2 843.2,324.5 843.5,325.7 843.8,318.2 844,323.9 844.2,325.5 844.5,324.3 844.8,322.9 845,323.0 845.2,331.1 845.5,332.5 845.8,334.1 846,339.7 846.2,334.4 846.5,335.6 846.8,341.2 847,335.4 847.2,334.4 847.5,337.2 847.5,345.5 847.8,342.9 848,343.2 848.2,342.9 848.5,344.5 848.8,343.4 849,342.4 849.2,344.7 849.2,340.5 849.5,343.1 849.8,342.0 850,340.8 850.2,360.3 850.5,344.8 850.8,363.2 851,359.8 851,371.8 851.2,355.9 851.5,356.8 851.8,357.1 852,359.3 852.2,365.4 852.5,366.1 852.8,360.0 853,357.2 853,355.5 853.2,360.1 853.5,356.4 853.8,361.9 854,358.5 854.2,357.3 854.5,367.6 854.8,368.6 855,380.4 855.2,383.3 855.5,369.3 855.8,372.7 856,363.1 856.2,377.7 856.5,395.8 856.8,390.8 857,395.0 857.2,380.7 857.5,375.8 857.8,397.4 858,385.3 858.2,375.0 858.5,385.2 858.5,398.5 858.8,372.3 859,391.2 859.2,377.7 859.5,358.5 859.8,365.6 860,371.9 860.2,395.3 860.5,369.9 860.8,373.8 861,371.2 861.2,386.6 861.5,356.1 861.8,356.9 862,357.7 862.2,359.0 862.5,355.6 862.5,353.0 862.8,355.1 863,363.4 863.2,361.5 863.5,360.4 863.8,355.5 864,355.7 864.2,364.3 864.2,370.5 864.5,357.3 864.8,368.5 865,350.1 865.2,344.2 865.5,349.4 865.8,347.9 866,345.7 866.2,354.0 866.5,348.6 866.8,349.4 867,350.2 867.2,344.4 867.5,346.6 867.8,320.3 868,343.6 868.2,307.2 868.5,335.9 868.8,307.5 869,339.4 869.2,309.4 869.5,331.1 869.8,305.4 870,313.4 870.2,306.6 870.5,305.3 870.8,338.4 871,307.6 871,304.2 871.2,308.6 871.5,308.3 871.8,323.3 872,331.3 872.2,343.2 872.5,350.6 872.8,331.9 873,314.7 873.2,334.9 873.5,332.3 873.8,347.5 874,352.3 874.2,342.5 874.2,353.0 874.5,328.4 874.8,338.0 875,328.7 875.2,336.4 875.5,333.7 875.8,323.2 876,322.3 876.2,326.9 876.5,326.1 876.8,322.2 877,328.1 877.2,320.6 877.5,323.6 877.8,328.0 878,324.0 878,320.5 878.2,321.4 878.5,323.1 878.8,334.0 879,336.3 879.2,342.4 879.5,331.5 879.8,339.6 879.8,345.5 880,329.4 880.2,335.8 880.5,337.9 880.8,323.2 881,323.1 881.2,329.5 881.2,313.0 881.5,325.8 881.8,328.7 882,325.7 882.2,328.3 882.5,324.9 882.8,313.9 883,324.0 883,330.5 883.2,324.4 883.5,322.4 883.8,316.5 884,315.9 884.2,336.0 884.2,310.5 884.5,341.4 884.8,312.9 885,318.5 885.2,311.3 885.5,313.6 885.8,323.6 886,341.5 886,350.5 886.2,333.5 886.5,327.5 886.8,332.8 887,345.2 887.2,340.7 887.5,335.9 887.8,335.9 888,334.7 888.2,342.8 888.5,323.3 888.8,328.4 889,320.6 889.2,328.3 889.5,329.0 889.8,323.5 890,321.5 890.2,317.8 890.5,315.5 890.8,318.4 891,318.1 891.2,318.6 891.5,299.0 891.8,289.4 892,282.9 892.2,276.1 892.5,282.5 892.8,262.4 893,263.1 893.2,270.6 893.5,263.5 893.8,261.3 894,268.3 894.2,265.9 894.2,261.8 894.5,272.7 894.8,270.2 895,271.0 895.2,288.1 895.5,290.0 895.8,262.3 896,285.9 896,290.5 896.2,278.4 896.5,278.2 896.8,280.4 897,285.7 897.2,285.8 897.5,283.6 897.8,283.9 898,284.5 898,278.0 898.2,288.3 898.5,280.6 898.8,279.3 899,301.5 899.2,300.0 899.5,311.6 899.8,300.0 899.8,313.0 900,312.2 900.2,289.4 900.5,298.2 900.8,276.8 901,288.3 901.2,280.5 901.5,266.2 901.8,259.2 902,265.7 902.2,259.9 902.5,258.7 902.8,265.4 903,254.8 903.2,279.2 903.5,251.4 903.8,261.0 904,256.8 904.2,248.6 904.5,238.3 904.8,264.5 905,209.8 905.2,225.9 905.5,240.0 905.8,223.5 906,212.3 906.2,203.9 906.5,190.3 906.8,190.8 907,186.3 907.2,194.2 907.5,194.8 907.8,208.3 908,194.4 908.2,193.3 908.5,186.2 908.8,188.5 909,186.3 909.2,186.7 909.2,185.0 909.5,195.9 909.8,186.5 910,198.6 910.2,202.8 910.5,240.7 910.8,224.8 911,204.3 911.2,215.7 911.5,190.5 911.8,190.8 912,187.9 912.2,193.3 912.5,200.4 912.8,206.5 913,219.7 913.2,258.1 913.5,268.2 913.5,265.5 913.8,283.3 914,243.9 914.2,237.3 914.2,240.0 914.5,217.6 914.8,250.3 915,279.5 915.2,258.9 915.5,279.0 915.8,284.0 916,278.9 916.2,285.5 916.2,291.8 916.5,274.6 916.8,290.0 917,288.6 917.2,283.6 917.5,283.5 917.8,290.0 918,291.1 918.2,267.2 918.5,251.2 918.8,244.8 919,229.5 919.2,229.7 919.5,252.6 919.8,256.9 920,245.3 920.2,240.3 920.5,222.5 920.8,231.8 921,242.5 921.2,221.3 921.5,221.2 921.8,231.2 921.8,218.8 922,233.6 922.2,224.7 922.5,219.0 922.8,230.6 923,246.5 923.2,222.3 923.5,233.2 923.8,222.9 924,222.8 924.2,253.6 924.2,263.0 924.5,239.2 924.8,241.0 925,241.1 925.2,240.0 925.5,244.9 925.5,230.0 925.8,246.2 926,261.4 926.2,267.4 926.5,249.6 926.8,264.8 927,238.2 927.2,254.7 927.5,242.0 927.8,270.8 928,276.0 928.2,278.1 928.5,270.7 928.8,275.2 929,274.8 929.2,277.5 929.5,297.9 929.8,287.6 930,281.0 930.2,290.8 930.5,304.9 930.5,308.0 930.8,303.1 931,296.6 931.2,299.8 931.5,301.0 931.8,293.6 932,300.9 932.2,295.1 932.5,301.3 932.5,293.0 932.8,293.7 933,293.7 933.2,301.5 933.5,303.2 933.8,313.0 934,305.0 934.2,312.7 934.2,313.0 934.5,308.7 934.8,312.2 935,304.1 935.2,306.8 935.5,308.0 935.5,305.5 935.8,310.1 936,305.5 936.2,307.6 936.5,318.3 936.8,326.2 937,317.0 937,338.0 937.2,335.3 937.5,330.7 937.8,304.1 938,320.2 938.2,304.4 938.5,305.1 938.8,278.6 939,278.8 939.2,294.4 939.5,286.3 939.8,273.9 940,283.1 940.2,271.2 940.5,269.9 940.8,268.3 941,272.8 941.2,263.3 941.5,264.1 941.8,263.5 941.8,263.0 942,263.2 942.2,264.5 942.5,262.9 942.8,263.3 943,263.8 943.2,264.3 943.5,265.7 943.8,265.6 944,265.4 944.2,265.6 944.5,266.5 944.8,266.1 945,266.4 945.2,267.0 945.5,256.3 945.5,268.0 945.8,250.5 946,258.7 946.2,251.6 946.5,239.0 946.8,241.7 947,244.8 947.2,237.7 947.2,230.0 947.5,234.0 947.8,278.4 948,282.3 948.2,280.0 948.5,269.6 948.8,274.1 949,274.4 949.2,282.1 949.2,283.0 949.5,268.4 949.8,266.2 950,270.5 950.2,276.4 950.5,277.6 950.8,276.0 951,277.6 951,263.0 951.2,267.5 951.5,272.8 951.8,275.3 952,275.2 952.2,289.3 952.5,290.0 952.8,299.6 953,289.5 953.2,293.1 953.5,288.7 953.8,301.6 954,298.6 954.2,299.1 954.2,301.8 954.5,298.7 954.8,302.2 955,294.8 955.2,286.6 955.5,283.9 955.8,287.7 956,289.6 956.2,291.1 956.5,291.1 956.8,284.3 957,267.7 957.2,279.4 957.5,274.0 957.8,270.0 958,259.2 958.2,257.6 958.5,255.0 958.8,253.5 959,252.8 959.2,256.8 959.5,254.5 959.8,259.6 960,247.6 960.2,257.5 960.5,257.9 960.8,250.5 961,253.5 961.2,251.7 961.5,240.3 961.8,254.8 961.8,240.0 962,241.9 962.2,250.5 962.5,269.2 962.8,261.0 963,269.3 963.2,261.3 963.5,265.3 963.5,270.5 963.8,252.9 964,248.2 964.2,254.5 964.5,266.8 964.8,267.5 965,262.6 965.2,255.4 965.5,259.6 965.5,253.0 965.8,254.3 966,285.8 966.2,269.6 966.5,270.1 966.8,271.3 967,263.9 967.2,280.5 967.5,272.2 967.5,288.0 967.8,266.6 968,281.0 968.2,284.9 968.5,284.7 968.8,266.8 969,247.1 969.2,252.1 969.5,240.4 969.8,243.5 970,249.3 970.2,225.2 970.5,228.4 970.8,220.4 971,225.0 971.2,238.0 971.5,215.4 971.8,194.8 972,199.7 972.2,203.2 972.5,217.9 972.8,232.3 973,227.5 973.2,199.0 973.5,197.5 973.8,187.9 974,187.9 974.2,184.6 974.5,178.5 974.8,179.7 975,181.4 975.2,172.5 975.5,175.4 975.8,179.0 976,178.5 976,171.2 976.2,176.8 976.5,173.1 976.8,177.2 977,179.1 977.2,179.2 977.5,181.2 977.8,185.3 978,193.4 978.2,188.8 978.5,190.8 978.8,187.6 979,193.0 979.2,196.8 979.5,191.9 979.8,204.6 980,213.9 980.2,211.6 980.5,209.5 980.8,211.6 981,226.5 981.2,222.6 981.5,218.0 981.8,226.4 982,230.4 982.2,229.5 982.5,230.4 982.8,231.8 983,229.9 983.2,239.3 983.5,242.2 983.5,242.5 983.8,237.5 984,239.1 984.2,239.6 984.5,232.5 984.8,234.0 985,231.5 985.2,230.5 985.5,208.6 985.8,213.9 986,203.9 986.2,203.6 986.5,211.6 986.8,192.8 987,195.5 987.2,198.6 987.5,194.4 987.5,192.5 987.8,195.2 988,195.2 988.2,194.3 988.5,199.0 988.8,196.2 989,197.7 989.2,193.8 989.5,210.3 989.8,200.0 990,193.3 990.2,197.0 990.5,200.2 990.8,229.8 991,226.2 991.2,224.0 991.5,223.2 991.8,246.7 992,245.9 992.2,229.9 992.5,258.1 992.8,232.5 993,235.0 993.2,259.6 993.5,254.1 993.8,246.1 994,243.9 994.2,258.5 994.5,258.9 994.8,250.5 995,260.1 995.2,259.4 995.5,270.3 995.8,270.5 996,268.6 996.2,262.9 996.5,268.8 996.8,273.3 997,270.3 997.2,276.3 997.5,272.7 997.8,265.9 998,262.9 998,278.0 998.2,257.8 998.5,261.2 998.8,266.4 999,276.1 999.2,272.0 999.5,276.3 999.8,276.6 1000,229.5 1000.2,252.5 1000.5,238.3 1000.8,230.9 1001,226.8 1001.2,225.2 1001.5,229.0 1001.8,228.6 1002,229.1 1002.2,225.6 1002.5,229.0 1002.5,222.5 1002.8,233.6 1003,228.9 1003.2,226.4 1003.5,225.9 1003.8,226.9 1004,230.8 1004.2,228.1 1004.2,240.0 1004.5,229.9 1004.8,225.4 1005,213.6 1005.2,219.0 1005.5,210.3 1005.8,196.7 1006,193.3 1006.2,200.6 1006.5,204.1 1006.8,209.5 1007,213.6 1007.2,201.7 1007.5,205.9 1007.5,192.5 1007.8,194.9 1008,193.3 1008.2,198.3 1008.5,197.1 1008.8,194.7 1009,195.3 1009.2,199.8 1009.5,194.4 1009.8,208.8 1010,219.4 1010.2,226.3 1010.5,216.6 1010.8,210.1 1011,227.6 1011.2,224.7 1011.5,224.2 1011.8,216.5 1011.8,258.0 1012,218.7 1012.2,222.2 1012.5,253.6 1012.8,246.0 1013,256.6 1013.2,261.8 1013.5,240.5 1013.8,264.7 1014,239.1 1014.2,241.8 1014.2,232.5 1014.5,245.9 1014.8,233.8 1015,259.7 1015,265.5 1015.2,259.3 1015.5,253.7 1015.8,263.0 1016,257.3 1016.2,247.5 1016.5,270.9 1016.8,241.6 1017,241.0 1017.2,256.5 1017.5,247.9 1017.8,253.4 1018,252.5 1018,240.0 1018.2,268.3 1018.5,243.5 1018.8,255.0 1019,273.8 1019.2,268.1 1019.5,275.5 1019.8,276.4 1020,279.4 1020.2,279.4 1020.5,271.1 1020.5,281.8 1020.8,271.9 1021,258.0 1021.2,275.2 1021.5,277.8 1021.8,273.7 1022,267.0 1022.2,276.7 1022.5,260.3 1022.8,258.1 1023,261.2 1023.2,272.5 1023.5,254.1 1023.8,244.9 1024,237.1 1024.2,238.4 1024.5,233.1 1024.8,242.4 1025,232.6 1025.2,231.6 1025.5,232.5 1025.8,222.4 1026,245.1 1026.2,238.3 1026.5,221.9 1026.8,220.2 1027,220.4 1027.2,230.8 1027.5,224.4 1027.8,209.2 1028,212.5 1028.2,220.2 1028.5,208.0 1028.8,205.2 1029,198.9 1029.2,206.4 1029.5,199.0 1029.8,185.7 1030,183.5 1030.2,179.5 1030.5,181.7 1030.8,177.7 1031,169.9 1031.2,168.7 1031.5,169.5 1031.8,169.4 1032,169.2 1032.2,177.6 1032.5,178.6 1032.8,172.2 1033,169.3 1033.2,169.9 1033.5,169.5 1033.8,168.9 1034,166.2 1034.2,167.8 1034.2,166.2 1034.5,168.0 1034.8,168.5 1035,166.4 1035.2,173.6 1035.5,167.5 1035.8,166.8 1036,182.9 1036.2,184.1 1036.5,184.0 1036.8,180.6 1037,184.2 1037.2,173.0 1037.5,185.6 1037.8,198.8 1038,194.8 1038.2,208.9 1038.5,196.8 1038.8,204.7 1039,214.9 1039.2,198.1 1039.5,197.6 1039.8,219.3 1040,224.3 1040.2,220.9 1040.5,204.9 1040.8,217.5 1041,212.3 1041.2,233.7 1041.5,253.8 1041.8,250.3 1042,233.6 1042.2,232.7 1042.5,223.7 1042.8,254.4 1043,243.3 1043.2,236.3 1043.5,251.0 1043.8,250.7 1044,251.9 1044.2,248.2 1044.2,268.0 1044.5,262.4 1044.8,266.7 1045,240.2 1045.2,257.7 1045.5,255.2 1045.5,242.5 1045.8,256.3 1046,252.7 1046,255.5 1046.2,248.2 1046.5,249.6 1046.8,264.2 1047,252.7 1047.2,249.0 1047.5,253.9 1047.8,246.2 1048,238.5 1048.2,235.8 1048.5,236.4 1048.8,243.0 1049,238.3 1049.2,265.4 1049.2,233.8 1049.5,260.6 1049.8,238.8 1050,248.3 1050.2,265.9 1050.5,268.4 1050.8,266.6 1051,272.8 1051.2,270.9 1051.5,283.4 1051.8,293.9 1052,292.8 1052.2,274.4 1052.5,293.2 1052.8,300.0 1053,285.0 1053.2,282.1 1053.5,293.4 1053.8,294.4 1054,284.0 1054.2,288.9 1054.5,295.8 1054.8,303.3 1055,311.0 1055.2,303.4 1055.5,303.7 1055.8,305.3 1056,315.2 1056.2,318.0 1056.5,314.2 1056.8,306.4 1057,315.5 1057.2,317.0 1057.2,323.0 1057.5,305.8 1057.8,304.3 1058,316.4 1058.2,319.0 1058.5,311.6 1058.8,315.9 1058.8,303.0 1059,311.0 1059.2,313.2 1059.5,316.0 1059.8,320.3 1060,311.8 1060.2,321.3 1060.5,312.2 1060.5,323.0 1060.8,288.9 1061,283.1 1061.2,290.3 1061.5,290.0 1061.8,285.3 1062,273.6 1062.2,276.1 1062.5,279.9 1062.8,273.2 1063,267.4 1063.2,293.4 1063.5,276.2 1063.8,283.3 1064,275.3 1064.2,258.3 1064.2,253.0 1064.5,259.0 1064.8,272.1 1065,268.4 1065.2,255.1 1065.5,258.7 1065.8,266.4 1066,272.8 1066.2,271.2 1066.5,266.8 1066.8,290.1 1067,297.4 1067.2,294.2 1067.5,294.4 1067.5,300.5 1067.8,293.9 1068,292.0 1068.2,294.8 1068.5,290.5 1068.8,294.1 1069,293.6 1069.2,293.6 1069.5,292.5 1069.8,277.8 1070,274.9 1070.2,272.8 1070.5,263.4 1070.8,263.2 1071,264.6 1071.2,270.2 1071.5,265.5 1071.8,271.7 1072,265.6 1072.2,281.6 1072.5,281.2 1072.5,261.8 1072.8,281.6 1073,272.8 1073.2,275.1 1073.5,276.9 1073.8,280.9 1074,274.9 1074.2,285.2 1074.5,284.2 1074.8,276.6 1075,291.8 1075.2,288.2 1075.5,293.7 1075.8,317.7 1076,312.7 1076.2,301.4 1076.5,311.8 1076.8,312.0 1077,316.4 1077.2,316.4 1077.5,315.1 1077.8,324.3 1078,320.9 1078.2,320.3 1078.5,334.9 1078.8,321.8 1079,330.6 1079.2,335.1 1079.5,341.3 1079.8,340.9 1080,349.5 1080.2,342.7 1080.5,367.4 1080.8,354.7 1081,371.7 1081.2,364.5 1081.5,367.7 1081.8,373.7 1082,372.0 1082.2,369.5 1082.5,369.0 1082.8,372.9 1083,377.8 1083.2,385.8 1083.5,380.5 1083.8,376.1 1084,377.4 1084.2,376.9 1084.5,376.6 1084.8,385.4 1085,389.4 1085,390.5 1085.2,389.0 1085.5,389.7 1085.8,385.4 1086,389.0 1086.2,389.6 1086.5,384.7 1086.8,387.1 1086.8,383.0 1087,389.7 1087.2,386.8 1087.5,384.8 1087.8,383.7 1088,403.8 1088.2,409.4 1088.5,411.0 1088.8,412.0 1089,409.8 1089.2,415.3 1089.5,417.0 1089.8,414.6 1090,412.0 1090.2,418.9 1090.5,414.5 1090.8,418.4 1091,419.3 1091.2,420.4 1091.5,422.3 1091.8,418.6 1092,418.2 1092.2,418.7 1092.2,422.2 1092.5,421.8 1092.8,417.9 1093,420.5 1093.2,414.8 1093.5,383.5 1093.8,408.6 1094,413.2 1094.2,401.1 1094.5,404.2 1094.8,382.4 1095,382.5 1095.2,382.1 1095.5,382.6 1095.8,382.3 1096,382.4 1096.2,378.7 1096.5,371.3 1096.8,382.2 1097,376.5 1097.2,375.9 1097.5,367.5 1097.8,370.9 1098,380.5 1098.2,369.1 1098.5,360.5 1098.8,361.2 1099,365.5 1099.2,365.3 1099.5,360.4 1099.8,365.0 1100,365.1 1100.2,360.4 1100.5,360.7 1100.8,368.1 1101,362.6 1101.2,361.9 1101.5,369.9 1101.8,372.3 1102,377.7 1102.2,376.9 1102.5,376.3 1102.5,378.0 1102.8,372.5 1103,365.5 1103.2,364.1 1103.5,376.0 1103.8,377.3 1104,366.5 1104.2,372.2 1104.5,361.2 1104.8,366.3 1105,364.0 1105.2,358.1 1105.5,357.9 1105.8,360.3 1106,359.5 1106.2,360.7 1106.5,358.0 1106.8,360.5 1107,365.5 1107.2,361.2 1107.5,372.6 1107.8,367.6 1108,373.6 1108,375.5 1108.2,375.4 1108.5,373.4 1108.8,373.8 1109,372.8 1109.2,382.0 1109.5,383.5 1109.5,370.5 1109.8,384.8 1110,384.6 1110.2,384.8 1110.5,378.7 1110.8,372.1 1111,383.3 1111.2,385.9 1111.5,398.2 1111.8,395.9 1111.8,403.5 1112,396.9 1112.2,379.6 1112.5,386.1 1112.8,382.7 1113,372.7 1113.2,379.5 1113.5,368.3 1113.8,377.7 1114,368.0 1114.2,365.1 1114.5,365.9 1114.8,364.3 1115,366.3 1115.2,363.4 1115.5,364.2 1115.8,368.2 1116,363.0 1116.2,377.0 1116.5,388.9 1116.8,388.7 1117,389.2 1117.2,384.5 1117.5,375.5 1117.5,390.5 1117.8,385.8 1118,377.0 1118.2,376.0 1118.5,374.8 1118.8,382.4 1119,365.4 1119.2,355.3 1119.5,359.7 1119.8,353.7 1120,357.8 1120.2,355.1 1120.5,354.7 1120.5,353.0 1120.5,373.0 1120.8,357.1 1121,359.4 1121.2,350.6 1121.5,354.5 1121.8,364.7 1122,368.5 1122.2,363.7 1122.5,368.1 1122.8,358.7 1123,351.8 1123.2,363.6 1123.5,373.9 1123.8,376.9 1123.8,378.0 1124,376.6 1124.2,366.0 1124.5,371.3 1124.8,375.2 1125,342.7 1125.2,342.4 1125.5,342.4 1125.8,342.2 1126,345.4 1126.2,338.5 1126.5,339.8 1126.8,341.5 1127,338.5 1127.2,338.2 1127.5,330.1 1127.8,329.8 1128,326.0 1128.2,335.3 1128.5,332.5 1128.8,323.4 1129,325.0 1129.2,320.5 1129.5,321.4 1129.8,315.6 1130,312.6 1130.2,307.9 1130.5,307.6 1130.8,310.9 1131,303.6 1131.2,302.4 1131.5,308.4 1131.8,310.2 1132,298.9 1132,295.5 1132.2,302.6 1132.5,301.4 1132.8,298.9 1133,303.8 1133.2,299.7 1133.5,297.7 1133.8,298.3 1133.8,305.5 1134,303.2 1134.2,305.1 1134.5,280.8 1134.8,284.8 1135,284.3 1135,280.5 1135.2,288.9 1135.5,285.5 1135.8,285.1 1136,287.7 1136.2,275.1 1136.5,283.0 1136.8,288.7 1137,281.4 1137,290.5 1137.2,286.8 1137.5,286.3 1137.8,288.0 1138,281.3 1138.2,282.2 1138.5,258.0 1138.8,258.4 1139,271.5 1139.2,261.1 1139.5,233.8 1139.8,231.0 1140,226.8 1140.2,229.9 1140.5,234.3 1140.8,231.0 1141,237.8 1141.2,217.5 1141.5,211.6 1141.8,212.5 1142,215.1 1142.2,214.0 1142.5,224.8 1142.8,217.6 1143,214.1 1143,211.2 1143.2,225.7 1143.5,222.0 1143.8,219.6 1144,219.5 1144.2,213.3 1144.5,215.9 1144.8,218.2 1145,219.1 1145.2,236.1 1145.5,241.1 1145.8,238.8 1146,239.1 1146.2,244.5 1146.5,242.1 1146.8,255.6 1147,252.3 1147.2,239.3 1147.5,244.2 1147.8,258.7 1148,248.9 1148.2,258.0 1148.5,248.8 1148.8,243.4 1149,258.8 1149.2,271.4 1149.5,263.9 1149.8,257.0 1150,256.5 1150.2,270.2 1150.5,273.4 1150.8,281.9 1151,271.8 1151.2,275.6 1151.5,285.8 1151.8,283.4 1152,285.5 1152.2,285.5 1152.5,307.7 1152.8,293.3 1153,304.0 1153,314.2 1153.2,307.0 1153.5,286.9 1153.8,271.5 1154,281.5 1154.2,277.4 1154.5,279.9 1154.8,288.0 1155,272.8 1155.2,268.0 1155.5,266.0 1155.8,263.9 1156,262.7 1156.2,259.2" fill="none" stroke="#5e90e9" stroke-width="2.3" stroke-linejoin="round" stroke-linecap="round"/>
<rect x="153.1" y="102.2" width="1051.2" height="438.7" fill="none" stroke="#111" stroke-width="1.5"/>
<text transform="translate(210.0,559.0) scale(1,1.05)" font-size="16" text-anchor="middle">2024-02</text>
<text transform="translate(363.8,559.0) scale(1,1.05)" font-size="16" text-anchor="middle">2024-03</text>
<text transform="translate(528.5,559.0) scale(1,1.05)" font-size="16" text-anchor="middle">2024-04</text>
<text transform="translate(688.1,559.0) scale(1,1.05)" font-size="16" text-anchor="middle">2024-05</text>
<text transform="translate(853.0,559.0) scale(1,1.05)" font-size="16" text-anchor="middle">2024-06</text>
<text transform="translate(1012.4,559.0) scale(1,1.05)" font-size="16" text-anchor="middle">2024-07</text>
<text transform="translate(1177.0,559.0) scale(1,1.05)" font-size="16" text-anchor="middle">2024-08</text>
<text transform="translate(146.3,524.2) scale(1,1.05)" font-size="16" text-anchor="end">2250</text>
<text transform="translate(146.3,469.6) scale(1,1.05)" font-size="16" text-anchor="end">2500</text>
<text transform="translate(146.3,414.9) scale(1,1.05)" font-size="16" text-anchor="end">2750</text>
<text transform="translate(146.3,360.2) scale(1,1.05)" font-size="16" text-anchor="end">3000</text>
<text transform="translate(146.3,305.5) scale(1,1.05)" font-size="16" text-anchor="end">3250</text>
<text transform="translate(146.3,250.9) scale(1,1.05)" font-size="16" text-anchor="end">3500</text>
<text transform="translate(146.3,196.2) scale(1,1.05)" font-size="16" text-anchor="end">3750</text>
<text transform="translate(146.3,141.5) scale(1,1.05)" font-size="16" text-anchor="end">4000</text>
<text transform="translate(1210.2,511.4) scale(1,1.05)" font-size="16">0.35</text>
<text transform="translate(1210.2,449.6) scale(1,1.05)" font-size="16">0.40</text>
<text transform="translate(1210.2,387.7) scale(1,1.05)" font-size="16">0.45</text>
<text transform="translate(1210.2,325.9) scale(1,1.05)" font-size="16">0.50</text>
<text transform="translate(1210.2,264.1) scale(1,1.05)" font-size="16">0.55</text>
<text transform="translate(1210.2,202.3) scale(1,1.05)" font-size="16">0.60</text>
<text transform="translate(1210.2,140.4) scale(1,1.05)" font-size="16">0.65</text>
<path d="M210.0,540.9 v-5.3 M210.0,102.2 v5.3 M363.8,540.9 v-5.3 M363.8,102.2 v5.3 M528.5,540.9 v-5.3 M528.5,102.2 v5.3 M688.1,540.9 v-5.3 M688.1,102.2 v5.3 M853.0,540.9 v-5.3 M853.0,102.2 v5.3 M1012.4,540.9 v-5.3 M1012.4,102.2 v5.3 M1177.0,540.9 v-5.3 M1177.0,102.2 v5.3 M153.1,519.8 h5.3 M153.1,465.1 h5.3 M153.1,410.4 h5.3 M153.1,355.7 h5.3 M153.1,301.0 h5.3 M153.1,246.4 h5.3 M153.1,191.7 h5.3 M153.1,137.0 h5.3 M1204.3,506.5 h-5.3 M1204.3,444.7 h-5.3 M1204.3,382.8 h-5.3 M1204.3,321.0 h-5.3 M1204.3,259.2 h-5.3 M1204.3,197.4 h-5.3 M1204.3,135.5 h-5.3" stroke="#000" stroke-width="1.3" fill="none"/>
<text x="678.3" y="92.1" font-size="19.5" text-anchor="middle">ETH Derivative Risk Volatility</text>
<text transform="translate(678.5,580.2) scale(1,1.05)" font-size="16.2" text-anchor="middle">Time</text>
<text transform="translate(93.3,321.8) rotate(-90) scale(1,1.05)" font-size="16.2" text-anchor="middle">ETH Price</text>
<text transform="translate(1266.5,321.8) rotate(-90) scale(1,1.05)" font-size="16.2" text-anchor="middle">ETH RPN</text>
<rect x="17" y="14.5" width="135.3" height="55.5" rx="3" ry="3" fill="#ffffff" stroke="#d4d4d4" stroke-width="1"/>
<path d="M23,28.5 H56.8" stroke="#000" stroke-width="2"/>
<path d="M23,53.8 H56.8" stroke="#6a92e0" stroke-width="2"/>
<text transform="translate(68.5,35.0) scale(1,1.05)" font-size="16.2">ETH Price</text>
<text transform="translate(68.5,59.9) scale(1,1.05)" font-size="16.2">RPN</text>
</svg></body></html>
